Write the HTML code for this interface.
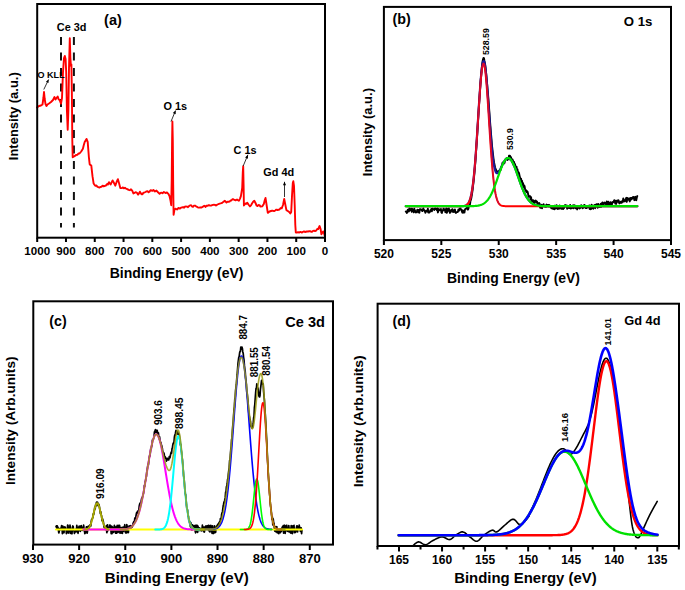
<!DOCTYPE html>
<html><head><meta charset="utf-8"><style>
html,body{margin:0;padding:0;background:#fff;}
svg{display:block;font-family:"Liberation Sans", sans-serif;}
</style></head><body>
<svg width="685" height="590" viewBox="0 0 685 590">

<rect width="685" height="590" fill="#fff"/>
<g>
<path d="M61,37.1 V227.6 M73.9,37.1 V227.6" stroke="#111" stroke-width="2" stroke-dasharray="8 7.5" fill="none"/>
<path d="M37,107.5 L38,106.75 L39,106 L40,105.75 L41,105.5 L42.5,104.5 L43.4,98 L44,92 L44.7,99 L45.5,104 L46.5,106 L47.5,104.5 L49,103.5 L50,102.75 L51,102 L52,101 L53,100 L54.5,97 L55.5,99.5 L56.5,98 L57.7,96.5 L58.7,99.5 L59.6,100 L61,103.6 L62,98 L63,72 L64,58 L64.8,56 L65.6,59 L66.2,72 L66.9,110 L67.7,129.7 L68.4,110 L69,68 L69.8,38.3 L70.4,58 L70.9,66 L71.4,64.4 L71.9,95 L72.3,140 L72.7,157.3 L74,156.5 L75.3,155.6 L76.3,154.88 L77.3,154.8 L78.4,153.52 L79.5,153.5 L81.2,151.5 L82.9,148.8 L83.8,145 L84.7,141.9 L86.5,138.9 L87.7,141.9 L88.9,157.3 L89.7,164.4 L91.3,165.6 L92.5,176.2 L93.6,183.4 L94.5,184.82 L95.4,185.7 L96.45,185.48 L97.5,186.8 L98.55,187.21 L99.6,187.5 L100.55,186.86 L101.5,186.7 L102.6,185.7 L103.7,186.3 L104.85,185.91 L106,185.5 L106.95,184.17 L107.9,184.5 L109,182.2 L110.6,184.5 L111.6,182.33 L112.6,180.4 L114,183 L115.3,185.7 L116.6,182 L117.9,179.2 L119,183 L120.3,188.1 L122,188 L122.95,187.38 L123.9,188.3 L124.95,187.71 L126,188.6 L127.3,189.11 L128.6,189.9 L129.8,190.19 L131,189.3 L132.2,190.67 L133.4,193.4 L135,192.6 L135.95,192.2 L136.9,192.8 L138.1,194.6 L139,193.38 L139.9,191.7 L141.5,194.3 L142.5,194.26 L143.5,192.6 L144.5,192.44 L145.5,192 L146.5,191.41 L147.5,191.2 L148.5,192.26 L149.5,191.6 L150.5,190.23 L151.5,190.5 L152.45,190.9 L153.4,190 L155,191.5 L156.5,190.6 L158,192.3 L159.6,193.8 L161,192.6 L162.5,193.2 L163.9,192 L165.5,193 L167,192.5 L168.3,193.8 L169.5,196 L170.6,201 L171.2,205.2 L171.7,180 L172.1,140 L172.4,121.5 L172.8,140 L173.2,185 L173.6,214.8 L174.4,210 L175.3,208.7 L177,209.5 L178.5,208 L180,208.6 L181,207.67 L182,207.5 L183.05,207.01 L184.1,207.8 L185.05,206.51 L186,206.6 L187,206.56 L188,207.2 L189.5,205.6 L191.1,205.2 L192.05,206.57 L193,206.8 L194,205.63 L195,205.6 L196,206.35 L197,206.8 L198,207.45 L199,207.6 L200.3,207.32 L201.6,207.5 L202.55,206.94 L203.5,206.2 L204.5,205.81 L205.5,207 L206.5,205.61 L207.5,205.8 L208.75,205.12 L210,205.5 L211.05,205.67 L212.1,205.2 L213.05,204.87 L214,204.8 L215,204.87 L216,205.6 L217.5,204.5 L219,203.8 L220.5,203.4 L221.5,203.15 L222.5,202.6 L223.7,201.62 L224.9,200.8 L226.5,202.5 L227.55,201.74 L228.6,201.7 L229.55,201.63 L230.5,200.5 L231.43,200.46 L232.37,199.24 L233.3,199.3 L234.4,199.98 L235.5,200.4 L237,199.5 L237.95,200.2 L238.9,200.8 L240,198.6 L240.9,196.1 L242.2,188 L242.8,172 L243.2,166.3 L243.6,185 L243.9,205.5 L245.5,203.5 L246.4,203.78 L247.3,202.7 L248.8,205 L250,206.4 L251,205.36 L252,203.5 L253.15,201.77 L254.3,200.8 L255.5,203 L256.6,205.5 L257.55,206.11 L258.5,205 L259.5,205.11 L260.5,206.6 L262.2,206.4 L263.8,204 L264.8,200 L265.5,198 L266.3,203 L267.2,209 L267.8,212.9 L269.5,211.5 L271,211 L272,210.75 L273,210.8 L274.1,211.11 L275.2,210.5 L276.35,209.62 L277.5,210 L278.5,209.73 L279.5,209.5 L280.6,208.07 L281.7,208.3 L283,205 L284.2,198.9 L285.2,204 L286.4,210.1 L287.8,211 L289.2,212 L290.3,213.5 L291.2,212 L292,196 L292.8,183 L293.3,181.2 L294,186 L294.7,205 L295.3,225 L295.8,232.5 L296.9,232.65 L298,232.2 L299,232.58 L300,232 L301,232.06 L302,232.54 L303,231.8 L303.98,231.39 L304.95,232 L305.92,231.74 L306.9,231.5 L307.93,231.54 L308.97,231.22 L310,231.2 L311,231.71 L312,231.8 L313,230.9 L314.07,230.75 L315.13,231 L316.2,230.6 L317.2,229.01 L318.2,229 L319.6,226 L320.6,229 L321.4,234.3 L322.3,232.5 L323.3,231.5 L324.2,234 L324.8,236" stroke="#ff0000" stroke-width="1.9" fill="none" stroke-linejoin="round" stroke-linecap="round"/>
<rect x="37.2" y="4" width="287.8" height="233.7" fill="none" stroke="#000" stroke-width="2"/>
<path d="M37.2,237.7 V242 M65.98,237.7 V242 M94.76,237.7 V242 M123.54,237.7 V242 M152.32,237.7 V242 M181.1,237.7 V242 M209.88,237.7 V242 M238.66,237.7 V242 M267.44,237.7 V242 M296.22,237.7 V242 M325,237.7 V242" stroke="#000" stroke-width="2" fill="none"/>
<text x="37.2" y="255" font-size="11.6" font-weight="bold" text-anchor="middle" fill="#000">1000</text>
<text x="65.98" y="255" font-size="11.6" font-weight="bold" text-anchor="middle" fill="#000">900</text>
<text x="94.76" y="255" font-size="11.6" font-weight="bold" text-anchor="middle" fill="#000">800</text>
<text x="123.54" y="255" font-size="11.6" font-weight="bold" text-anchor="middle" fill="#000">700</text>
<text x="152.32" y="255" font-size="11.6" font-weight="bold" text-anchor="middle" fill="#000">600</text>
<text x="181.1" y="255" font-size="11.6" font-weight="bold" text-anchor="middle" fill="#000">500</text>
<text x="209.88" y="255" font-size="11.6" font-weight="bold" text-anchor="middle" fill="#000">400</text>
<text x="238.66" y="255" font-size="11.6" font-weight="bold" text-anchor="middle" fill="#000">300</text>
<text x="267.44" y="255" font-size="11.6" font-weight="bold" text-anchor="middle" fill="#000">200</text>
<text x="296.22" y="255" font-size="11.6" font-weight="bold" text-anchor="middle" fill="#000">100</text>
<text x="325" y="255" font-size="11.6" font-weight="bold" text-anchor="middle" fill="#000">0</text>
<text x="109.7" y="277.6" font-size="14" font-weight="bold" text-anchor="start" fill="#000" textLength="133.8" lengthAdjust="spacingAndGlyphs">Binding Energy (eV)</text>
<text transform="translate(18.1,160.2) rotate(-90)" font-size="13.2" font-weight="bold" text-anchor="start" fill="#000" textLength="88" lengthAdjust="spacingAndGlyphs">Intensity (a.u.)</text>
<text x="104.1" y="24.6" font-size="14.5" font-weight="bold" text-anchor="start" fill="#000">(a)</text>
<text x="56.8" y="30.6" font-size="10.9" font-weight="bold" text-anchor="start" fill="#000">Ce 3d</text>
<text x="37.5" y="78.4" font-size="9.4" font-weight="bold" text-anchor="start" fill="#000" textLength="27.2" lengthAdjust="spacingAndGlyphs">O KLL</text>
<text x="163.5" y="109.6" font-size="10.9" font-weight="bold" text-anchor="start" fill="#000">O 1s</text>
<text x="233.5" y="153.5" font-size="10.9" font-weight="bold" text-anchor="start" fill="#000">C 1s</text>
<text x="263.3" y="175.9" font-size="10.9" font-weight="bold" text-anchor="start" fill="#000">Gd 4d</text>
<path d="M43.8,89.5 L48.6,79.5" stroke="#000" stroke-width="0.8"/>
<path d="M48.6,79.5 L48.51,83.01 L45.92,81.76 Z" fill="#000"/>
<path d="M171,121.5 L175.6,110.5" stroke="#000" stroke-width="0.8"/>
<path d="M175.6,110.5 L175.7,114.34 L172.8,113.12 Z" fill="#000"/>
<path d="M243.2,166 L247.9,154.8" stroke="#000" stroke-width="0.8"/>
<path d="M247.9,154.8 L248,158.64 L245.09,157.42 Z" fill="#000"/>
<path d="M284.5,197 L284.5,181.8" stroke="#000" stroke-width="0.8"/>
<path d="M284.5,181.8 L286.07,185.3 L282.93,185.3 Z" fill="#000"/>
<path d="M405.8,211.63 L406.3,211.38 L406.8,212.97 L407.3,212.18 L407.8,209.71 L408.31,210.17 L408.81,211.48 L409.31,208.5 L409.81,210.52 L410.31,209.17 L410.81,208.94 L411.31,208.67 L411.81,211.93 L412.31,208.99 L412.82,209.54 L413.32,210.2 L413.82,212.41 L414.32,208.77 L414.82,210.47 L415.32,210.93 L415.82,212.46 L416.32,212.17 L416.82,212.37 L417.32,209.68 L417.83,210.31 L418.33,210.05 L418.83,212.47 L419.33,212.81 L419.83,209.09 L420.33,209.21 L420.83,209.47 L421.33,209.47 L421.83,210.63 L422.34,211.11 L422.84,209.61 L423.34,208.42 L423.84,210.33 L424.34,210.1 L424.84,211.01 L425.34,212.78 L425.84,211.58 L426.34,210.77 L426.85,211.24 L427.35,211.51 L427.85,208.65 L428.35,212.54 L428.85,211.99 L429.35,212.42 L429.85,212.07 L430.35,210.2 L430.85,210.24 L431.36,208.88 L431.86,211.32 L432.36,208.69 L432.86,208.71 L433.36,209.36 L433.86,209.15 L434.36,209.96 L434.86,208.64 L435.36,208.4 L435.86,209.1 L436.37,208.87 L436.87,210.07 L437.37,208.52 L437.87,212.42 L438.37,211.22 L438.87,209.08 L439.37,209.56 L439.87,210 L440.37,210.08 L440.88,208.97 L441.38,212.31 L441.88,212.97 L442.38,210.54 L442.88,210.63 L443.38,208.8 L443.88,208.87 L444.38,209.98 L444.88,209.62 L445.39,212.21 L445.89,209.14 L446.39,208.51 L446.89,212.77 L447.39,210.83 L447.89,209.07 L448.39,210.9 L448.89,208.52 L449.39,210.83 L449.9,212.9 L450.4,212.37 L450.9,211.6 L451.4,209.6 L451.9,210.09 L452.4,209.17 L452.9,211.95 L453.4,210.85 L453.9,211.98 L454.4,209.92 L454.91,209.43 L455.41,212.13 L455.91,212.93 L456.41,212.32 L456.91,212.11 L457.41,212.16 L457.91,211.8 L458.41,209.44 L458.91,210.78 L459.42,210.03 L459.92,208.52 L460.42,208.51 L460.92,209.66 L461.42,209.55 L461.92,211.53 L462.42,212.72 L462.92,210.34 L463.42,212.55 L463.93,212.72 L464.43,212.48 L464.93,209.64 L465.43,208.82 L465.93,208.65 L466.43,208.13 L466.93,207.69 L467.43,209.05 L467.93,209.63 L468.44,208.51 L468.94,205.83 L469.44,205.4 L469.94,204.61 L470.44,200.97 L470.94,199.58 L471.44,197.43 L471.94,194.42 L472.44,191.08 L472.95,186.96 L473.45,182.31 L473.95,178.21 L474.45,172.3 L474.95,166.95 L475.45,160.74 L475.95,153.14 L476.45,145.81 L476.95,138.77 L477.45,130.54 L477.96,121.74 L478.46,113.52 L478.96,105.44 L479.46,98.43 L479.96,90.7 L480.46,82.83 L480.96,77.12 L481.46,71.46 L481.96,66.12 L482.47,61.89 L482.97,59.57 L483.47,57.94 L483.97,58.11 L484.47,60.92 L484.97,63.34 L485.47,66.92 L485.97,71.87 L486.47,76.31 L486.98,82.36 L487.48,88.23 L487.98,93.74 L488.48,100.29 L488.98,107.01 L489.48,113.69 L489.98,120.82 L490.48,126.98 L490.98,133.48 L491.49,139.08 L491.99,145.52 L492.49,149.84 L492.99,154.41 L493.49,158.43 L493.99,162.14 L494.49,164.35 L494.99,167.25 L495.49,168.58 L495.99,170.03 L496.5,171.04 L497,171.11 L497.5,171.97 L498,171.72 L498.5,171.32 L499,171.85 L499.5,170.5 L500,170.01 L500.5,170.29 L501.01,168.56 L501.51,166.48 L502.01,166.02 L502.51,162.74 L503.01,162.43 L503.51,164.08 L504.01,162.1 L504.51,163 L505.01,160.73 L505.52,159.54 L506.02,158.65 L506.52,158.29 L507.02,159.01 L507.52,159.95 L508.02,157.87 L508.52,159.21 L509.02,155.67 L509.52,155.58 L510.03,155.85 L510.53,159.78 L511.03,157.11 L511.53,160.21 L512.03,161.98 L512.53,159.41 L513.03,161.14 L513.53,165 L514.03,161.83 L514.53,164.63 L515.04,164.12 L515.54,167.89 L516.04,168.23 L516.54,166.76 L517.04,171.02 L517.54,169.48 L518.04,174.37 L518.54,172.23 L519.04,173.18 L519.55,175.61 L520.05,177.64 L520.55,180.88 L521.05,178.76 L521.55,182.08 L522.05,180.87 L522.55,185.03 L523.05,183.08 L523.55,186.99 L524.06,185.31 L524.56,186.26 L525.06,189.19 L525.56,190.66 L526.06,190.16 L526.56,192.35 L527.06,191.12 L527.56,191.64 L528.06,193.74 L528.57,196.73 L529.07,196.15 L529.57,196.06 L530.07,196.23 L530.57,199.27 L531.07,197.14 L531.57,201.42 L532.07,201.37 L532.57,200.26 L533.07,200.22 L533.58,202.14 L534.08,200.84 L534.58,203.06 L535.08,201.93 L535.58,200.53 L536.08,200.94 L536.58,202.17 L537.08,201.6 L537.58,205.8 L538.09,203.11 L538.59,203.4 L539.09,202.94 L539.59,203.66 L540.09,207.66 L540.59,207.87 L541.09,206.07 L541.59,204.82 L542.09,208.27 L542.6,205.37 L543.1,205.69 L543.6,204.15 L544.1,205.99 L544.6,206.5 L545.1,206.7 L545.6,205.38 L546.1,206.83 L546.6,204.58 L547.11,205.82 L547.61,205.06 L548.11,206.52 L548.61,204.9 L549.11,204.84 L549.61,206.16 L550.11,205.85 L550.61,207.49 L551.11,207.25 L551.61,208.28 L552.12,207.86 L552.62,208.14 L553.12,208.9 L553.62,206.65 L554.12,206.37 L554.62,209.4 L555.12,205.57 L555.62,208.21 L556.12,207.84 L556.63,205.09 L557.13,208.73 L557.63,208.99 L558.13,207.78 L558.63,208.27 L559.13,208.63 L559.63,205.54 L560.13,207.31 L560.63,207.22 L561.14,208.74 L561.64,208.6 L562.14,208.7 L562.64,207.59 L563.14,209.01 L563.64,208.04 L564.14,208.09 L564.64,205.96 L565.14,205.04 L565.65,205.51 L566.15,206.56 L566.65,205.38 L567.15,208.74 L567.65,207.47 L568.15,207.79 L568.65,207.78 L569.15,208.03 L569.65,207.15 L570.15,204.92 L570.66,208.57 L571.16,208.34 L571.66,207.21 L572.16,207.36 L572.66,207.93 L573.16,205.2 L573.66,208.29 L574.16,206.06 L574.66,205.24 L575.17,206.12 L575.67,208.25 L576.17,205.84 L576.67,208.3 L577.17,209.39 L577.67,207.17 L578.17,206.66 L578.67,207.1 L579.17,208.05 L579.68,208.43 L580.18,207.74 L580.68,207.86 L581.18,205.26 L581.68,205.58 L582.18,206.07 L582.68,208.32 L583.18,206.3 L583.68,207.51 L584.19,204.96 L584.69,205.18 L585.19,206.14 L585.69,207.99 L586.19,208.08 L586.69,208.01 L587.19,206.24 L587.69,207.28 L588.19,207.04 L588.7,207.05 L589.2,205.45 L589.7,209.01 L590.2,205.78 L590.7,209.26 L591.2,208.97 L591.7,204.64 L592.2,206.57 L592.7,208.13 L593.2,208.71 L593.71,206.22 L594.21,205.29 L594.71,204.92 L595.21,208.2 L595.71,204.72 L596.21,206.33 L596.71,204.2 L597.21,205.86 L597.71,207.73 L598.22,203.86 L598.72,206.92 L599.22,205.39 L599.72,207.03 L600.22,206.08 L600.72,203.81 L601.22,206.78 L601.72,204.78 L602.22,202.56 L602.73,202.36 L603.23,204.51 L603.73,204.22 L604.23,203.43 L604.73,202.59 L605.23,203.42 L605.73,203.19 L606.23,205.5 L606.73,201.55 L607.24,204.89 L607.74,205.2 L608.24,201.79 L608.74,205.4 L609.24,204.32 L609.74,205.08 L610.24,202.17 L610.74,202.45 L611.24,202.44 L611.74,205.13 L612.25,203.14 L612.75,201.99 L613.25,202.2 L613.75,201.4 L614.25,200.25 L614.75,200.4 L615.25,203.67 L615.75,201.04 L616.25,203.93 L616.76,200.67 L617.26,200.65 L617.76,201.68 L618.26,200.1 L618.76,200.84 L619.26,203.42 L619.76,202.99 L620.26,202.56 L620.76,201.62 L621.27,202.82 L621.77,202.85 L622.27,200.95 L622.77,201.63 L623.27,198.45 L623.77,201.49 L624.27,200.09 L624.77,201.38 L625.27,200.78 L625.78,199.03 L626.28,197.84 L626.78,201.78 L627.28,198 L627.78,199.48 L628.28,198.79 L628.78,198.48 L629.28,200.41 L629.78,201.4 L630.28,198.01 L630.79,199.73 L631.29,197.99 L631.79,199.07 L632.29,198.22 L632.79,197.08 L633.29,196.95 L633.79,197.06 L634.29,200.17 L634.79,198.19 L635.3,196.81 L635.8,199.87 L636.3,200.19 L636.8,197.57 L637.3,196.04" stroke="#000" stroke-width="1.9" fill="none" stroke-linejoin="round" stroke-linecap="round"/>
<path d="M405.8,206.2 L406.3,206.2 L406.8,206.2 L407.3,206.2 L407.8,206.2 L408.31,206.2 L408.81,206.2 L409.31,206.2 L409.81,206.2 L410.31,206.2 L410.81,206.2 L411.31,206.2 L411.81,206.2 L412.31,206.2 L412.82,206.2 L413.32,206.2 L413.82,206.2 L414.32,206.2 L414.82,206.2 L415.32,206.2 L415.82,206.2 L416.32,206.2 L416.82,206.2 L417.32,206.2 L417.83,206.2 L418.33,206.2 L418.83,206.2 L419.33,206.2 L419.83,206.2 L420.33,206.2 L420.83,206.2 L421.33,206.2 L421.83,206.2 L422.34,206.2 L422.84,206.2 L423.34,206.2 L423.84,206.2 L424.34,206.2 L424.84,206.2 L425.34,206.2 L425.84,206.2 L426.34,206.2 L426.85,206.2 L427.35,206.2 L427.85,206.2 L428.35,206.2 L428.85,206.2 L429.35,206.2 L429.85,206.2 L430.35,206.2 L430.85,206.2 L431.36,206.2 L431.86,206.2 L432.36,206.2 L432.86,206.2 L433.36,206.2 L433.86,206.2 L434.36,206.2 L434.86,206.2 L435.36,206.2 L435.86,206.2 L436.37,206.2 L436.87,206.2 L437.37,206.2 L437.87,206.2 L438.37,206.2 L438.87,206.2 L439.37,206.2 L439.87,206.2 L440.37,206.2 L440.88,206.2 L441.38,206.2 L441.88,206.2 L442.38,206.2 L442.88,206.2 L443.38,206.2 L443.88,206.2 L444.38,206.2 L444.88,206.2 L445.39,206.2 L445.89,206.2 L446.39,206.2 L446.89,206.2 L447.39,206.2 L447.89,206.2 L448.39,206.2 L448.89,206.2 L449.39,206.2 L449.9,206.2 L450.4,206.2 L450.9,206.2 L451.4,206.2 L451.9,206.2 L452.4,206.2 L452.9,206.2 L453.4,206.2 L453.9,206.2 L454.4,206.2 L454.91,206.2 L455.41,206.2 L455.91,206.2 L456.41,206.2 L456.91,206.2 L457.41,206.2 L457.91,206.2 L458.41,206.2 L458.91,206.19 L459.42,206.19 L459.92,206.19 L460.42,206.18 L460.92,206.17 L461.42,206.16 L461.92,206.14 L462.42,206.12 L462.92,206.08 L463.42,206.04 L463.93,205.97 L464.43,205.88 L464.93,205.77 L465.43,205.61 L465.93,205.4 L466.43,205.13 L466.93,204.78 L467.43,204.34 L467.93,203.77 L468.44,203.05 L468.94,202.16 L469.44,201.06 L469.94,199.71 L470.44,198.08 L470.94,196.12 L471.44,193.8 L471.94,191.07 L472.44,187.89 L472.95,184.23 L473.45,180.06 L473.95,175.35 L474.45,170.11 L474.95,164.33 L475.45,158.03 L475.95,151.25 L476.45,144.04 L476.95,136.47 L477.45,128.64 L477.96,120.64 L478.46,112.61 L478.96,104.69 L479.46,97.01 L479.96,89.72 L480.46,82.99 L480.96,76.95 L481.46,71.73 L481.96,67.45 L482.47,64.22 L482.97,62.1 L483.47,61.14 L483.97,61.35 L484.47,62.72 L484.97,65.2 L485.47,68.72 L485.97,73.18 L486.47,78.46 L486.98,84.43 L487.48,90.93 L487.98,97.82 L488.48,104.94 L488.98,112.15 L489.48,119.29 L489.98,126.25 L490.48,132.92 L490.98,139.19 L491.49,144.99 L491.99,150.27 L492.49,154.99 L492.99,159.13 L493.49,162.69 L493.99,165.67 L494.49,168.1 L494.99,170 L495.49,171.42 L495.99,172.4 L496.5,172.98 L497,173.22 L497.5,173.15 L498,172.83 L498.5,172.29 L499,171.58 L499.5,170.74 L500,169.79 L500.5,168.78 L501.01,167.72 L501.51,166.64 L502.01,165.57 L502.51,164.52 L503.01,163.51 L503.51,162.56 L504.01,161.67 L504.51,160.86 L505.01,160.14 L505.52,159.51 L506.02,158.99 L506.52,158.57 L507.02,158.26 L507.52,158.07 L508.02,158 L508.52,158.04 L509.02,158.2 L509.52,158.48 L510.03,158.87 L510.53,159.37 L511.03,159.98 L511.53,160.7 L512.03,161.51 L512.53,162.42 L513.03,163.42 L513.53,164.49 L514.03,165.64 L514.53,166.85 L515.04,168.12 L515.54,169.45 L516.04,170.81 L516.54,172.2 L517.04,173.62 L517.54,175.06 L518.04,176.51 L518.54,177.96 L519.04,179.4 L519.55,180.84 L520.05,182.25 L520.55,183.65 L521.05,185.01 L521.55,186.34 L522.05,187.63 L522.55,188.88 L523.05,190.09 L523.55,191.25 L524.06,192.36 L524.56,193.42 L525.06,194.43 L525.56,195.38 L526.06,196.28 L526.56,197.13 L527.06,197.93 L527.56,198.67 L528.06,199.37 L528.57,200.01 L529.07,200.61 L529.57,201.16 L530.07,201.67 L530.57,202.14 L531.07,202.57 L531.57,202.96 L532.07,203.32 L532.57,203.64 L533.07,203.93 L533.58,204.2 L534.08,204.44 L534.58,204.65 L535.08,204.84 L535.58,205.01 L536.08,205.16 L536.58,205.3 L537.08,205.42 L537.58,205.52 L538.09,205.61 L538.59,205.69 L539.09,205.76 L539.59,205.83 L540.09,205.88 L540.59,205.93 L541.09,205.97 L541.59,206 L542.09,206.03 L542.6,206.06 L543.1,206.08 L543.6,206.1 L544.1,206.12 L544.6,206.13 L545.1,206.14 L545.6,206.15 L546.1,206.16 L546.6,206.17 L547.11,206.17 L547.61,206.18 L548.11,206.18 L548.61,206.18 L549.11,206.19 L549.61,206.19 L550.11,206.19 L550.61,206.19 L551.11,206.19 L551.61,206.2 L552.12,206.2 L552.62,206.2 L553.12,206.2 L553.62,206.2 L554.12,206.2 L554.62,206.2 L555.12,206.2 L555.62,206.2 L556.12,206.2 L556.63,206.2 L557.13,206.2 L557.63,206.2 L558.13,206.2 L558.63,206.2 L559.13,206.2 L559.63,206.2 L560.13,206.2 L560.63,206.2 L561.14,206.2 L561.64,206.2 L562.14,206.2 L562.64,206.2 L563.14,206.2 L563.64,206.2 L564.14,206.2 L564.64,206.2 L565.14,206.2 L565.65,206.2 L566.15,206.2 L566.65,206.2 L567.15,206.2 L567.65,206.2 L568.15,206.2 L568.65,206.2 L569.15,206.2 L569.65,206.2 L570.15,206.2 L570.66,206.2 L571.16,206.2 L571.66,206.2 L572.16,206.2 L572.66,206.2 L573.16,206.2 L573.66,206.2 L574.16,206.2 L574.66,206.2 L575.17,206.2 L575.67,206.2 L576.17,206.2 L576.67,206.2 L577.17,206.2 L577.67,206.2 L578.17,206.2 L578.67,206.2 L579.17,206.2 L579.68,206.2 L580.18,206.2 L580.68,206.2 L581.18,206.2 L581.68,206.2 L582.18,206.2 L582.68,206.2 L583.18,206.2 L583.68,206.2 L584.19,206.2 L584.69,206.2 L585.19,206.2 L585.69,206.2 L586.19,206.2 L586.69,206.2 L587.19,206.2 L587.69,206.2 L588.19,206.2 L588.7,206.2 L589.2,206.2 L589.7,206.2 L590.2,206.2 L590.7,206.2 L591.2,206.2 L591.7,206.2 L592.2,206.2 L592.7,206.2 L593.2,206.2 L593.71,206.2 L594.21,206.2 L594.71,206.2 L595.21,206.2 L595.71,206.2 L596.21,206.2 L596.71,206.2 L597.21,206.2 L597.71,206.2 L598.22,206.2 L598.72,206.2 L599.22,206.2 L599.72,206.2 L600.22,206.2 L600.72,206.2 L601.22,206.2 L601.72,206.2 L602.22,206.2 L602.73,206.2 L603.23,206.2 L603.73,206.2 L604.23,206.2 L604.73,206.2 L605.23,206.2 L605.73,206.2 L606.23,206.2 L606.73,206.2 L607.24,206.2 L607.74,206.2 L608.24,206.2 L608.74,206.2 L609.24,206.2 L609.74,206.2 L610.24,206.2 L610.74,206.2 L611.24,206.2 L611.74,206.2 L612.25,206.2 L612.75,206.2 L613.25,206.2 L613.75,206.2 L614.25,206.2 L614.75,206.2 L615.25,206.2 L615.75,206.2 L616.25,206.2 L616.76,206.2 L617.26,206.2 L617.76,206.2 L618.26,206.2 L618.76,206.2 L619.26,206.2 L619.76,206.2 L620.26,206.2 L620.76,206.2 L621.27,206.2 L621.77,206.2 L622.27,206.2 L622.77,206.2 L623.27,206.2 L623.77,206.2 L624.27,206.2 L624.77,206.2 L625.27,206.2 L625.78,206.2 L626.28,206.2 L626.78,206.2 L627.28,206.2 L627.78,206.2 L628.28,206.2 L628.78,206.2 L629.28,206.2 L629.78,206.2 L630.28,206.2 L630.79,206.2 L631.29,206.2 L631.79,206.2 L632.29,206.2 L632.79,206.2 L633.29,206.2 L633.79,206.2 L634.29,206.2 L634.79,206.2 L635.3,206.2 L635.8,206.2 L636.3,206.2 L636.8,206.2 L637.3,206.2" stroke="#1a1aa0" stroke-width="2.2" fill="none" stroke-linejoin="round" stroke-linecap="round"/>
<path d="M405.8,206.2 L406.3,206.2 L406.8,206.2 L407.3,206.2 L407.8,206.2 L408.31,206.2 L408.81,206.2 L409.31,206.2 L409.81,206.2 L410.31,206.2 L410.81,206.2 L411.31,206.2 L411.81,206.2 L412.31,206.2 L412.82,206.2 L413.32,206.2 L413.82,206.2 L414.32,206.2 L414.82,206.2 L415.32,206.2 L415.82,206.2 L416.32,206.2 L416.82,206.2 L417.32,206.2 L417.83,206.2 L418.33,206.2 L418.83,206.2 L419.33,206.2 L419.83,206.2 L420.33,206.2 L420.83,206.2 L421.33,206.2 L421.83,206.2 L422.34,206.2 L422.84,206.2 L423.34,206.2 L423.84,206.2 L424.34,206.2 L424.84,206.2 L425.34,206.2 L425.84,206.2 L426.34,206.2 L426.85,206.2 L427.35,206.2 L427.85,206.2 L428.35,206.2 L428.85,206.2 L429.35,206.2 L429.85,206.2 L430.35,206.2 L430.85,206.2 L431.36,206.2 L431.86,206.2 L432.36,206.2 L432.86,206.2 L433.36,206.2 L433.86,206.2 L434.36,206.2 L434.86,206.2 L435.36,206.2 L435.86,206.2 L436.37,206.2 L436.87,206.2 L437.37,206.2 L437.87,206.2 L438.37,206.2 L438.87,206.2 L439.37,206.2 L439.87,206.2 L440.37,206.2 L440.88,206.2 L441.38,206.2 L441.88,206.2 L442.38,206.2 L442.88,206.2 L443.38,206.2 L443.88,206.2 L444.38,206.2 L444.88,206.2 L445.39,206.2 L445.89,206.2 L446.39,206.2 L446.89,206.2 L447.39,206.2 L447.89,206.2 L448.39,206.2 L448.89,206.2 L449.39,206.2 L449.9,206.2 L450.4,206.2 L450.9,206.2 L451.4,206.2 L451.9,206.2 L452.4,206.2 L452.9,206.2 L453.4,206.2 L453.9,206.2 L454.4,206.2 L454.91,206.2 L455.41,206.2 L455.91,206.2 L456.41,206.2 L456.91,206.2 L457.41,206.2 L457.91,206.2 L458.41,206.2 L458.91,206.19 L459.42,206.19 L459.92,206.19 L460.42,206.18 L460.92,206.17 L461.42,206.16 L461.92,206.14 L462.42,206.12 L462.92,206.09 L463.42,206.04 L463.93,205.97 L464.43,205.89 L464.93,205.77 L465.43,205.62 L465.93,205.41 L466.43,205.14 L466.93,204.8 L467.43,204.35 L467.93,203.79 L468.44,203.07 L468.94,202.19 L469.44,201.09 L469.94,199.75 L470.44,198.13 L470.94,196.18 L471.44,193.87 L471.94,191.15 L472.44,187.98 L472.95,184.34 L473.45,180.19 L473.95,175.51 L474.45,170.3 L474.95,164.55 L475.45,158.29 L475.95,151.55 L476.45,144.39 L476.95,136.89 L477.45,129.12 L477.96,121.2 L478.46,113.26 L478.96,105.44 L479.46,97.87 L479.96,90.72 L480.46,84.13 L480.96,78.25 L481.46,73.22 L481.96,69.15 L482.47,66.15 L482.97,64.28 L483.47,63.6 L483.97,64.13 L484.47,65.84 L484.97,68.7 L485.47,72.64 L485.97,77.55 L486.47,83.33 L486.98,89.84 L487.48,96.92 L487.98,104.45 L488.48,112.25 L488.98,120.18 L489.48,128.11 L489.98,135.9 L490.48,143.45 L490.98,150.65 L491.49,157.45 L491.99,163.77 L492.49,169.59 L492.99,174.87 L493.49,179.62 L493.99,183.83 L494.49,187.54 L494.99,190.76 L495.49,193.54 L495.99,195.9 L496.5,197.89 L497,199.56 L497.5,200.93 L498,202.06 L498.5,202.97 L499,203.7 L499.5,204.29 L500,204.74 L500.5,205.1 L501.01,205.38 L501.51,205.59 L502.01,205.75 L502.51,205.87 L503.01,205.96 L503.51,206.03 L504.01,206.08 L504.51,206.12 L505.01,206.14 L505.52,206.16 L506.02,206.17 L506.52,206.18 L507.02,206.19 L507.52,206.19 L508.02,206.19 L508.52,206.2 L509.02,206.2 L509.52,206.2 L510.03,206.2 L510.53,206.2 L511.03,206.2 L511.53,206.2 L512.03,206.2 L512.53,206.2 L513.03,206.2 L513.53,206.2 L514.03,206.2 L514.53,206.2 L515.04,206.2 L515.54,206.2 L516.04,206.2 L516.54,206.2 L517.04,206.2 L517.54,206.2 L518.04,206.2 L518.54,206.2 L519.04,206.2 L519.55,206.2 L520.05,206.2 L520.55,206.2 L521.05,206.2 L521.55,206.2 L522.05,206.2 L522.55,206.2 L523.05,206.2 L523.55,206.2 L524.06,206.2 L524.56,206.2 L525.06,206.2 L525.56,206.2 L526.06,206.2 L526.56,206.2 L527.06,206.2 L527.56,206.2 L528.06,206.2 L528.57,206.2 L529.07,206.2 L529.57,206.2 L530.07,206.2 L530.57,206.2 L531.07,206.2 L531.57,206.2 L532.07,206.2 L532.57,206.2 L533.07,206.2 L533.58,206.2 L534.08,206.2 L534.58,206.2 L535.08,206.2 L535.58,206.2 L536.08,206.2 L536.58,206.2 L537.08,206.2 L537.58,206.2 L538.09,206.2 L538.59,206.2 L539.09,206.2 L539.59,206.2 L540.09,206.2 L540.59,206.2 L541.09,206.2 L541.59,206.2 L542.09,206.2 L542.6,206.2 L543.1,206.2 L543.6,206.2 L544.1,206.2 L544.6,206.2 L545.1,206.2 L545.6,206.2 L546.1,206.2 L546.6,206.2 L547.11,206.2 L547.61,206.2 L548.11,206.2 L548.61,206.2 L549.11,206.2 L549.61,206.2 L550.11,206.2 L550.61,206.2 L551.11,206.2 L551.61,206.2 L552.12,206.2 L552.62,206.2 L553.12,206.2 L553.62,206.2 L554.12,206.2 L554.62,206.2 L555.12,206.2 L555.62,206.2 L556.12,206.2 L556.63,206.2 L557.13,206.2 L557.63,206.2 L558.13,206.2 L558.63,206.2 L559.13,206.2 L559.63,206.2 L560.13,206.2 L560.63,206.2 L561.14,206.2 L561.64,206.2 L562.14,206.2 L562.64,206.2 L563.14,206.2 L563.64,206.2 L564.14,206.2 L564.64,206.2 L565.14,206.2 L565.65,206.2 L566.15,206.2 L566.65,206.2 L567.15,206.2 L567.65,206.2 L568.15,206.2 L568.65,206.2 L569.15,206.2 L569.65,206.2 L570.15,206.2 L570.66,206.2 L571.16,206.2 L571.66,206.2 L572.16,206.2 L572.66,206.2 L573.16,206.2 L573.66,206.2 L574.16,206.2 L574.66,206.2 L575.17,206.2 L575.67,206.2 L576.17,206.2 L576.67,206.2 L577.17,206.2 L577.67,206.2 L578.17,206.2 L578.67,206.2 L579.17,206.2 L579.68,206.2 L580.18,206.2 L580.68,206.2 L581.18,206.2 L581.68,206.2 L582.18,206.2 L582.68,206.2 L583.18,206.2 L583.68,206.2 L584.19,206.2 L584.69,206.2 L585.19,206.2 L585.69,206.2 L586.19,206.2 L586.69,206.2 L587.19,206.2 L587.69,206.2 L588.19,206.2 L588.7,206.2 L589.2,206.2 L589.7,206.2 L590.2,206.2 L590.7,206.2 L591.2,206.2 L591.7,206.2 L592.2,206.2 L592.7,206.2 L593.2,206.2 L593.71,206.2 L594.21,206.2 L594.71,206.2 L595.21,206.2 L595.71,206.2 L596.21,206.2 L596.71,206.2 L597.21,206.2 L597.71,206.2 L598.22,206.2 L598.72,206.2 L599.22,206.2 L599.72,206.2 L600.22,206.2 L600.72,206.2 L601.22,206.2 L601.72,206.2 L602.22,206.2 L602.73,206.2 L603.23,206.2 L603.73,206.2 L604.23,206.2 L604.73,206.2 L605.23,206.2 L605.73,206.2 L606.23,206.2 L606.73,206.2 L607.24,206.2 L607.74,206.2 L608.24,206.2 L608.74,206.2 L609.24,206.2 L609.74,206.2 L610.24,206.2 L610.74,206.2 L611.24,206.2 L611.74,206.2 L612.25,206.2 L612.75,206.2 L613.25,206.2 L613.75,206.2 L614.25,206.2 L614.75,206.2 L615.25,206.2 L615.75,206.2 L616.25,206.2 L616.76,206.2 L617.26,206.2 L617.76,206.2 L618.26,206.2 L618.76,206.2 L619.26,206.2 L619.76,206.2 L620.26,206.2 L620.76,206.2 L621.27,206.2 L621.77,206.2 L622.27,206.2 L622.77,206.2 L623.27,206.2 L623.77,206.2 L624.27,206.2 L624.77,206.2 L625.27,206.2 L625.78,206.2 L626.28,206.2 L626.78,206.2 L627.28,206.2 L627.78,206.2 L628.28,206.2 L628.78,206.2 L629.28,206.2 L629.78,206.2 L630.28,206.2 L630.79,206.2 L631.29,206.2 L631.79,206.2 L632.29,206.2 L632.79,206.2 L633.29,206.2 L633.79,206.2 L634.29,206.2 L634.79,206.2 L635.3,206.2 L635.8,206.2 L636.3,206.2 L636.8,206.2 L637.3,206.2" stroke="#ff0000" stroke-width="2.0" fill="none" stroke-linejoin="round" stroke-linecap="round"/>
<path d="M470.44,198.13 L470.94,196.18 L471.44,193.87 L471.94,191.15 L472.44,187.98 L472.95,184.34 L473.45,180.19 L473.95,175.51 L474.45,170.3 L474.95,164.55 L475.45,158.29 L475.95,151.55 L476.45,144.39 L476.95,136.89 L477.45,129.12 L477.96,121.2 L478.46,113.26 L478.96,105.44 L479.46,97.87 L479.96,90.72 L480.46,84.13 L480.96,78.25 L481.46,73.22 L481.96,69.15 L482.47,66.15 L482.97,64.28 L483.47,63.6 L483.97,64.13 L484.47,65.84 L484.97,68.7 L485.47,72.64 L485.97,77.55 L486.47,83.33 L486.98,89.84 L487.48,96.92 L487.98,104.45 L488.48,112.25 L488.98,120.18 L489.48,128.11 L489.98,135.9 L490.48,143.45 L490.98,150.65 L491.49,157.45 L491.99,163.77 L492.49,169.59 L492.99,174.87 L493.49,179.62 L493.99,183.83 L494.49,187.54 L494.99,190.76 L495.49,193.54 L495.99,195.9 L496.5,197.89 L497,199.56 L497.5,200.93 L498,202.06 L498.5,202.97 L499,203.7 L499.5,204.29" stroke="#c0104a" stroke-width="1.2" fill="none" stroke-linejoin="round" stroke-linecap="round" opacity="0.8"/>
<path d="M405.8,206.2 L406.3,206.2 L406.8,206.2 L407.3,206.2 L407.8,206.2 L408.31,206.2 L408.81,206.2 L409.31,206.2 L409.81,206.2 L410.31,206.2 L410.81,206.2 L411.31,206.2 L411.81,206.2 L412.31,206.2 L412.82,206.2 L413.32,206.2 L413.82,206.2 L414.32,206.2 L414.82,206.2 L415.32,206.2 L415.82,206.2 L416.32,206.2 L416.82,206.2 L417.32,206.2 L417.83,206.2 L418.33,206.2 L418.83,206.2 L419.33,206.2 L419.83,206.2 L420.33,206.2 L420.83,206.2 L421.33,206.2 L421.83,206.2 L422.34,206.2 L422.84,206.2 L423.34,206.2 L423.84,206.2 L424.34,206.2 L424.84,206.2 L425.34,206.2 L425.84,206.2 L426.34,206.2 L426.85,206.2 L427.35,206.2 L427.85,206.2 L428.35,206.2 L428.85,206.2 L429.35,206.2 L429.85,206.2 L430.35,206.2 L430.85,206.2 L431.36,206.2 L431.86,206.2 L432.36,206.2 L432.86,206.2 L433.36,206.2 L433.86,206.2 L434.36,206.2 L434.86,206.2 L435.36,206.2 L435.86,206.2 L436.37,206.2 L436.87,206.2 L437.37,206.2 L437.87,206.2 L438.37,206.2 L438.87,206.2 L439.37,206.2 L439.87,206.2 L440.37,206.2 L440.88,206.2 L441.38,206.2 L441.88,206.2 L442.38,206.2 L442.88,206.2 L443.38,206.2 L443.88,206.2 L444.38,206.2 L444.88,206.2 L445.39,206.2 L445.89,206.2 L446.39,206.2 L446.89,206.2 L447.39,206.2 L447.89,206.2 L448.39,206.2 L448.89,206.2 L449.39,206.2 L449.9,206.2 L450.4,206.2 L450.9,206.2 L451.4,206.2 L451.9,206.2 L452.4,206.2 L452.9,206.2 L453.4,206.2 L453.9,206.2 L454.4,206.2 L454.91,206.2 L455.41,206.2 L455.91,206.2 L456.41,206.2 L456.91,206.2 L457.41,206.2 L457.91,206.2 L458.41,206.2 L458.91,206.2 L459.42,206.2 L459.92,206.2 L460.42,206.2 L460.92,206.2 L461.42,206.2 L461.92,206.2 L462.42,206.2 L462.92,206.2 L463.42,206.2 L463.93,206.2 L464.43,206.2 L464.93,206.19 L465.43,206.19 L465.93,206.19 L466.43,206.19 L466.93,206.19 L467.43,206.19 L467.93,206.18 L468.44,206.18 L468.94,206.17 L469.44,206.17 L469.94,206.16 L470.44,206.15 L470.94,206.14 L471.44,206.13 L471.94,206.12 L472.44,206.11 L472.95,206.09 L473.45,206.07 L473.95,206.04 L474.45,206.01 L474.95,205.98 L475.45,205.94 L475.95,205.9 L476.45,205.84 L476.95,205.79 L477.45,205.72 L477.96,205.64 L478.46,205.55 L478.96,205.45 L479.46,205.34 L479.96,205.21 L480.46,205.06 L480.96,204.9 L481.46,204.71 L481.96,204.51 L482.47,204.28 L482.97,204.02 L483.47,203.74 L483.97,203.42 L484.47,203.08 L484.97,202.7 L485.47,202.28 L485.97,201.83 L486.47,201.33 L486.98,200.79 L487.48,200.21 L487.98,199.58 L488.48,198.9 L488.98,198.17 L489.48,197.39 L489.98,196.56 L490.48,195.67 L490.98,194.73 L491.49,193.74 L491.99,192.7 L492.49,191.61 L492.99,190.46 L493.49,189.27 L493.99,188.03 L494.49,186.75 L494.99,185.43 L495.49,184.08 L495.99,182.7 L496.5,181.29 L497,179.86 L497.5,178.42 L498,176.97 L498.5,175.52 L499,174.08 L499.5,172.65 L500,171.25 L500.5,169.87 L501.01,168.54 L501.51,167.25 L502.01,166.02 L502.51,164.85 L503.01,163.75 L503.51,162.73 L504.01,161.79 L504.51,160.95 L505.01,160.2 L505.52,159.55 L506.02,159.01 L506.52,158.59 L507.02,158.28 L507.52,158.08 L508.02,158 L508.52,158.04 L509.02,158.2 L509.52,158.48 L510.03,158.87 L510.53,159.37 L511.03,159.98 L511.53,160.7 L512.03,161.51 L512.53,162.42 L513.03,163.42 L513.53,164.49 L514.03,165.64 L514.53,166.85 L515.04,168.12 L515.54,169.45 L516.04,170.81 L516.54,172.2 L517.04,173.62 L517.54,175.06 L518.04,176.51 L518.54,177.96 L519.04,179.4 L519.55,180.84 L520.05,182.25 L520.55,183.65 L521.05,185.01 L521.55,186.34 L522.05,187.63 L522.55,188.88 L523.05,190.09 L523.55,191.25 L524.06,192.36 L524.56,193.42 L525.06,194.43 L525.56,195.38 L526.06,196.28 L526.56,197.13 L527.06,197.93 L527.56,198.67 L528.06,199.37 L528.57,200.01 L529.07,200.61 L529.57,201.16 L530.07,201.67 L530.57,202.14 L531.07,202.57 L531.57,202.96 L532.07,203.32 L532.57,203.64 L533.07,203.93 L533.58,204.2 L534.08,204.44 L534.58,204.65 L535.08,204.84 L535.58,205.01 L536.08,205.16 L536.58,205.3 L537.08,205.42 L537.58,205.52 L538.09,205.61 L538.59,205.69 L539.09,205.76 L539.59,205.83 L540.09,205.88 L540.59,205.93 L541.09,205.97 L541.59,206 L542.09,206.03 L542.6,206.06 L543.1,206.08 L543.6,206.1 L544.1,206.12 L544.6,206.13 L545.1,206.14 L545.6,206.15 L546.1,206.16 L546.6,206.17 L547.11,206.17 L547.61,206.18 L548.11,206.18 L548.61,206.18 L549.11,206.19 L549.61,206.19 L550.11,206.19 L550.61,206.19 L551.11,206.19 L551.61,206.2 L552.12,206.2 L552.62,206.2 L553.12,206.2 L553.62,206.2 L554.12,206.2 L554.62,206.2 L555.12,206.2 L555.62,206.2 L556.12,206.2 L556.63,206.2 L557.13,206.2 L557.63,206.2 L558.13,206.2 L558.63,206.2 L559.13,206.2 L559.63,206.2 L560.13,206.2 L560.63,206.2 L561.14,206.2 L561.64,206.2 L562.14,206.2 L562.64,206.2 L563.14,206.2 L563.64,206.2 L564.14,206.2 L564.64,206.2 L565.14,206.2 L565.65,206.2 L566.15,206.2 L566.65,206.2 L567.15,206.2 L567.65,206.2 L568.15,206.2 L568.65,206.2 L569.15,206.2 L569.65,206.2 L570.15,206.2 L570.66,206.2 L571.16,206.2 L571.66,206.2 L572.16,206.2 L572.66,206.2 L573.16,206.2 L573.66,206.2 L574.16,206.2 L574.66,206.2 L575.17,206.2 L575.67,206.2 L576.17,206.2 L576.67,206.2 L577.17,206.2 L577.67,206.2 L578.17,206.2 L578.67,206.2 L579.17,206.2 L579.68,206.2 L580.18,206.2 L580.68,206.2 L581.18,206.2 L581.68,206.2 L582.18,206.2 L582.68,206.2 L583.18,206.2 L583.68,206.2 L584.19,206.2 L584.69,206.2 L585.19,206.2 L585.69,206.2 L586.19,206.2 L586.69,206.2 L587.19,206.2 L587.69,206.2 L588.19,206.2 L588.7,206.2 L589.2,206.2 L589.7,206.2 L590.2,206.2 L590.7,206.2 L591.2,206.2 L591.7,206.2 L592.2,206.2 L592.7,206.2 L593.2,206.2 L593.71,206.2 L594.21,206.2 L594.71,206.2 L595.21,206.2 L595.71,206.2 L596.21,206.2 L596.71,206.2 L597.21,206.2 L597.71,206.2 L598.22,206.2 L598.72,206.2 L599.22,206.2 L599.72,206.2 L600.22,206.2 L600.72,206.2 L601.22,206.2 L601.72,206.2 L602.22,206.2 L602.73,206.2 L603.23,206.2 L603.73,206.2 L604.23,206.2 L604.73,206.2 L605.23,206.2 L605.73,206.2 L606.23,206.2 L606.73,206.2 L607.24,206.2 L607.74,206.2 L608.24,206.2 L608.74,206.2 L609.24,206.2 L609.74,206.2 L610.24,206.2 L610.74,206.2 L611.24,206.2 L611.74,206.2 L612.25,206.2 L612.75,206.2 L613.25,206.2 L613.75,206.2 L614.25,206.2 L614.75,206.2 L615.25,206.2 L615.75,206.2 L616.25,206.2 L616.76,206.2 L617.26,206.2 L617.76,206.2 L618.26,206.2 L618.76,206.2 L619.26,206.2 L619.76,206.2 L620.26,206.2 L620.76,206.2 L621.27,206.2 L621.77,206.2 L622.27,206.2 L622.77,206.2 L623.27,206.2 L623.77,206.2 L624.27,206.2 L624.77,206.2 L625.27,206.2 L625.78,206.2 L626.28,206.2 L626.78,206.2 L627.28,206.2 L627.78,206.2 L628.28,206.2 L628.78,206.2 L629.28,206.2 L629.78,206.2 L630.28,206.2 L630.79,206.2 L631.29,206.2 L631.79,206.2 L632.29,206.2 L632.79,206.2 L633.29,206.2 L633.79,206.2 L634.29,206.2 L634.79,206.2 L635.3,206.2 L635.8,206.2 L636.3,206.2 L636.8,206.2 L637.3,206.2" stroke="#00e000" stroke-width="2.2" fill="none" stroke-linejoin="round" stroke-linecap="round"/>
<rect x="383.9" y="6.9" width="287.1" height="233.2" fill="none" stroke="#000" stroke-width="2"/>
<path d="M383.9,240.1 V244.9 M441.32,240.1 V244.9 M498.74,240.1 V244.9 M556.16,240.1 V244.9 M613.58,240.1 V244.9 M671,240.1 V244.9" stroke="#000" stroke-width="2" fill="none"/>
<text x="383.9" y="257.8" font-size="12" font-weight="bold" text-anchor="middle" fill="#000">520</text>
<text x="441.32" y="257.8" font-size="12" font-weight="bold" text-anchor="middle" fill="#000">525</text>
<text x="498.74" y="257.8" font-size="12" font-weight="bold" text-anchor="middle" fill="#000">530</text>
<text x="556.16" y="257.8" font-size="12" font-weight="bold" text-anchor="middle" fill="#000">535</text>
<text x="613.58" y="257.8" font-size="12" font-weight="bold" text-anchor="middle" fill="#000">540</text>
<text x="671" y="257.8" font-size="12" font-weight="bold" text-anchor="middle" fill="#000">545</text>
<text x="447" y="282.7" font-size="14" font-weight="bold" text-anchor="start" fill="#000" textLength="133" lengthAdjust="spacingAndGlyphs">Binding Energy (eV)</text>
<text transform="translate(371.6,176.2) rotate(-90)" font-size="12.8" font-weight="bold" text-anchor="start" fill="#000" textLength="88.2" lengthAdjust="spacingAndGlyphs">Intensity (a.u.)</text>
<text x="392.4" y="24.4" font-size="14.3" font-weight="bold" text-anchor="start" fill="#000">(b)</text>
<text x="623.8" y="25.6" font-size="13.2" font-weight="bold" text-anchor="start" fill="#000">O 1s</text>
<text transform="translate(489.1,55) rotate(-90)" font-size="9.3" font-weight="bold" text-anchor="start" fill="#000" textLength="26.8" lengthAdjust="spacingAndGlyphs">528.59</text>
<text transform="translate(513.2,150) rotate(-90)" font-size="9.3" font-weight="bold" text-anchor="start" fill="#000" textLength="21.8" lengthAdjust="spacingAndGlyphs">530.9</text>
<path d="M56,526.73 L56.4,525.82 L56.8,528.08 L57.2,525.82 L57.6,527.15 L58,527.33 L58.4,530.13 L58.8,532.99 L59.2,531.75 L59.6,528.72 L60,528.72 L60.4,529.72 L60.8,528.39 L61.2,528.04 L61.6,525.56 L62,527.5 L62.4,533.71 L62.8,526.13 L63.2,529.53 L63.6,530.67 L64,532.77 L64.4,526.94 L64.8,527.44 L65.2,527.24 L65.6,528.6 L66,529.01 L66.4,533.59 L66.8,532.64 L67.2,532.86 L67.6,525.2 L68,525.29 L68.4,531.39 L68.8,533.06 L69.2,529.26 L69.6,530.28 L70,525 L70.4,528.52 L70.8,533.34 L71.2,532.43 L71.6,532.7 L72,533.75 L72.4,527.24 L72.8,525.98 L73.2,526.39 L73.6,529.7 L74,531.14 L74.4,533.47 L74.8,531.5 L75.2,530.83 L75.6,531.88 L76,529.12 L76.4,529.96 L76.8,525.36 L77.2,532.04 L77.6,527.09 L78,533.28 L78.4,530.81 L78.8,527.73 L79.2,526.15 L79.6,527.27 L80,530.73 L80.4,531.29 L80.8,526.01 L81.2,525.63 L81.6,529.72 L82,530.24 L82.4,528.49 L82.8,527 L83.2,530.4 L83.6,525.07 L84,527.68 L84.4,529.1 L84.8,533.56 L85.2,530.7 L85.6,532.81 L86,529.07 L86.4,526.82 L86.8,526.82 L87.2,533.09 L87.6,530.59 L88,527.64 L88.4,526.07 L88.8,527.76 L89.2,528.03 L89.6,526.3 L90,524.86 L90.4,525.8 L90.8,525.93 L91.2,521.71 L91.6,519.58 L92,519.49 L92.4,518.3 L92.8,517.79 L93.2,513.93 L93.6,514.79 L94,512.77 L94.4,510.01 L94.8,507.06 L95.2,508.94 L95.6,504.75 L96,505.93 L96.4,502.56 L96.8,502.04 L97.2,504.25 L97.6,502.36 L98,505.73 L98.4,504.51 L98.8,504.21 L99.2,505.66 L99.6,508 L100,510.72 L100.4,513.69 L100.8,511.93 L101.2,514.79 L101.6,515.73 L102,520.73 L102.4,518.62 L102.8,519.65 L103.2,520.98 L103.6,523.59 L104,526.82 L104.4,527.61 L104.8,527.68 L105.2,529.45 L105.6,529.66 L106,527.42 L106.4,525.66 L106.8,532.67 L107.2,531.16 L107.6,524.88 L108,530.69 L108.4,528.2 L108.8,528.22 L109.2,527.88 L109.6,526.45 L110,524.98 L110.4,527.49 L110.8,528.14 L111.2,533.59 L111.6,526.1 L112,533.67 L112.4,526.86 L112.8,528.21 L113.2,532.39 L113.6,532.39 L114,528.89 L114.4,525.44 L114.8,529.26 L115.2,528.35 L115.6,533.27 L116,526.73 L116.4,528.27 L116.8,533.06 L117.2,525.26 L117.6,528.68 L118,532.29 L118.4,531.88 L118.8,525.34 L119.2,525.28 L119.6,525.52 L120,533.23 L120.4,527.26 L120.8,531.66 L121.2,533.01 L121.6,527.96 L122,527.34 L122.4,533.5 L122.8,530.41 L123.2,527.19 L123.6,531.25 L124,527.62 L124.4,527.22 L124.8,524.73 L125.2,531.45 L125.6,532.84 L126,530.23 L126.4,532.94 L126.8,524.59 L127.2,526.38 L127.6,528.45 L128,532.66 L128.4,532.5 L128.8,527.23 L129.2,525.83 L129.6,527.23 L130,527.58 L130.4,529.21 L130.8,525.61 L131.2,527.95 L131.6,527.24 L132,527.11 L132.4,526.32 L132.8,524.95 L133.2,523 L133.6,522.16 L134,521.46 L134.4,522.36 L134.8,518.24 L135.2,517.67 L135.6,518.99 L136,515.59 L136.4,513.6 L136.8,512.27 L137.2,513.35 L137.6,511.17 L138,512.88 L138.4,511.3 L138.8,510.61 L139.2,506.29 L139.6,504.35 L140,503.23 L140.4,503.79 L140.8,503.45 L141.2,500.96 L141.6,498.6 L142,497.89 L142.4,497.17 L142.8,495.68 L143.2,494.18 L143.6,492.68 L144,489.85 L144.4,485.33 L144.8,486.3 L145.2,481.61 L145.6,480.48 L146,477.24 L146.4,476.43 L146.8,471.61 L147.2,469.36 L147.6,466.89 L148,464.03 L148.4,464.81 L148.8,461.06 L149.2,457.59 L149.6,455.59 L150,455.96 L150.4,451.65 L150.8,448.32 L151.2,448.83 L151.6,446.19 L152,445.79 L152.4,440.07 L152.8,439.97 L153.2,439.82 L153.6,438.33 L154,437.16 L154.4,431.94 L154.8,431.83 L155.2,430.04 L155.6,429.58 L156,432.54 L156.4,430.66 L156.8,432.34 L157.2,430.37 L157.6,433.33 L158,432.54 L158.4,432.95 L158.8,436.64 L159.2,438.89 L159.6,436.78 L160,440.57 L160.4,442.32 L160.8,442.2 L161.2,444.51 L161.6,445.14 L162,447.02 L162.4,448.8 L162.8,451.81 L163.2,453.46 L163.6,452.82 L164,453.19 L164.4,455.68 L164.8,458.19 L165.2,456.85 L165.6,458.1 L166,458.17 L166.4,461.17 L166.8,460.35 L167.2,458.33 L167.6,458.48 L168,459.61 L168.4,459.98 L168.8,459.91 L169.2,456.88 L169.6,456.41 L170,457.78 L170.4,455.38 L170.8,453.5 L171.2,452.11 L171.6,453.29 L172,448.67 L172.4,447.87 L172.8,444.96 L173.2,443.19 L173.6,443.16 L174,441.8 L174.4,437.19 L174.8,434.8 L175.2,435.7 L175.6,432.2 L176,430.42 L176.4,433.76 L176.8,431.36 L177.2,433.12 L177.6,431.64 L178,434.39 L178.4,433.5 L178.8,433.48 L179.2,434.44 L179.6,438.74 L180,441.41 L180.4,445.22 L180.8,444.56 L181.2,450.2 L181.6,452.68 L182,457.14 L182.4,459.66 L182.8,464.54 L183.2,470 L183.6,476.25 L184,477.14 L184.4,483.24 L184.8,488.95 L185.2,493.83 L185.6,494.42 L186,497.87 L186.4,504.97 L186.8,508.37 L187.2,509.18 L187.6,510 L188,516.29 L188.4,516.11 L188.8,520.32 L189.2,520.78 L189.6,523.16 L190,521.53 L190.4,526.71 L190.8,522.58 L191.2,525.03 L191.6,529.68 L192,530.09 L192.4,524.74 L192.8,525.44 L193.2,527.39 L193.6,528.71 L194,527.71 L194.4,525.53 L194.8,526.77 L195.2,531.18 L195.6,532.81 L196,525.17 L196.4,529.91 L196.8,531.7 L197.2,525.26 L197.6,532.48 L198,526.01 L198.4,530.36 L198.8,529.92 L199.2,530.62 L199.6,527.74 L200,528.77 L200.4,530.24 L200.8,528.83 L201.2,530.93 L201.6,529.02 L202,528.94 L202.4,525.21 L202.8,530.57 L203.2,529.4 L203.6,527.11 L204,531.87 L204.4,532.02 L204.8,529.12 L205.2,526.61 L205.6,529.25 L206,525.95 L206.4,526.14 L206.8,528.86 L207.2,525.81 L207.6,528.95 L208,529.56 L208.4,525.33 L208.8,530.68 L209.2,525.68 L209.6,531.53 L210,531.91 L210.4,529.49 L210.8,525.35 L211.2,529.36 L211.6,528.19 L212,533.3 L212.4,525.92 L212.8,532.34 L213.2,533.51 L213.6,531.04 L214,531.68 L214.4,525.96 L214.8,532.9 L215.2,528.31 L215.6,532.27 L216,529.74 L216.4,526.14 L216.8,528.54 L217.2,528.75 L217.6,524.47 L218,525.17 L218.4,526.31 L218.8,522.93 L219.2,525.32 L219.6,521.6 L220,522.87 L220.4,518.67 L220.8,518.87 L221.2,519.18 L221.6,514.39 L222,512.84 L222.4,511.99 L222.8,509.15 L223.2,505.79 L223.6,504.22 L224,501.86 L224.4,502.93 L224.8,499.41 L225.2,497.92 L225.6,492.22 L226,492.36 L226.4,486.77 L226.8,485.85 L227.2,483.46 L227.6,479.26 L228,478.38 L228.4,473.67 L228.8,470.3 L229.2,467.96 L229.6,460.68 L230,460.55 L230.4,454.72 L230.8,449.29 L231.2,446.52 L231.6,439.49 L232,437.89 L232.4,431.18 L232.8,425.26 L233.2,422.04 L233.6,415.59 L234,409.41 L234.4,406.92 L234.8,398.92 L235.2,397.46 L235.6,390.19 L236,387.23 L236.4,384.22 L236.8,378.08 L237.2,374.2 L237.6,368.62 L238,363.43 L238.4,360 L238.8,357.24 L239.2,356.37 L239.6,353.03 L240,351.32 L240.4,351.45 L240.8,347.09 L241.2,347.09 L241.6,349.16 L242,347.18 L242.4,348.48 L242.8,351.96 L243.2,353.31 L243.6,357.3 L244,359.98 L244.4,365.16 L244.8,369.04 L245.2,371.42 L245.6,377.5 L246,381.19 L246.4,384.11 L246.8,392.08 L247.2,393.44 L247.6,397.36 L248,401.34 L248.4,407.77 L248.8,412.62 L249.2,415.77 L249.6,417.33 L250,419.59 L250.4,420.92 L250.8,425.7 L251.2,426.79 L251.6,426.7 L252,428.14 L252.4,426.58 L252.8,427.17 L253.2,423.72 L253.6,418.06 L254,416.54 L254.4,407.72 L254.8,404.52 L255.2,398.71 L255.6,393.19 L256,388.46 L256.4,388.79 L256.8,383.9 L257.2,386.17 L257.6,389.19 L258,388.12 L258.4,391.35 L258.8,395.79 L259.2,396.76 L259.6,396.98 L260,395.62 L260.4,389.53 L260.8,386.56 L261.2,383.44 L261.6,380.24 L262,383.06 L262.4,382.97 L262.8,384.27 L263.2,383.91 L263.6,391.41 L264,395.75 L264.4,400.12 L264.8,407.64 L265.2,413.24 L265.6,419.58 L266,426.71 L266.4,435.13 L266.8,442.23 L267.2,451.45 L267.6,461.04 L268,468.32 L268.4,476.15 L268.8,482.33 L269.2,486.66 L269.6,493.72 L270,498.46 L270.4,504.73 L270.8,507.76 L271.2,510.3 L271.6,515.15 L272,519.32 L272.4,517.05 L272.8,524.98 L273.2,518.82 L273.6,522.36 L274,523.24 L274.4,528.68 L274.8,531.19 L275.2,529.96 L275.6,526.62 L276,531.93 L276.4,527.23 L276.8,526.62 L277.2,532.78 L277.6,530.4 L278,531.03 L278.4,530.85 L278.8,533.71 L279.2,529.16 L279.6,532.51 L280,531.25 L280.4,532.7 L280.8,528.92 L281.2,531.51 L281.6,530.13 L282,527.77 L282.4,526.9 L282.8,530.6 L283.2,525.7 L283.6,533.2 L284,526.3 L284.4,525.24 L284.8,525.96 L285.2,533.36 L285.6,528.1 L286,526.28 L286.4,525.26 L286.8,525.37 L287.2,531.23 L287.6,530.7 L288,531.27 L288.4,531.63 L288.8,525.59 L289.2,530.31 L289.6,528.27 L290,532.36 L290.4,532.38 L290.8,533.02 L291.2,525.59 L291.6,532.81 L292,533.23 L292.4,533.5 L292.8,525.96 L293.2,526.85 L293.6,526.01 L294,525.31 L294.4,532.63 L294.8,532.31 L295.2,530.71 L295.6,532.43 L296,530.68 L296.4,527.59 L296.8,525.9 L297.2,525.88 L297.6,531.82 L298,526.84 L298.4,527.87 L298.8,528.81 L299.2,525.19 L299.6,527.31 L300,527.54 L300.4,531.44 L300.8,528.31 L301.2,527.89 L301.6,533.68 L302,529.53" stroke="#000" stroke-width="1.7" fill="none" stroke-linejoin="round" stroke-linecap="round"/>
<path d="M56,529.5 L302,529.5" stroke="#ffff00" stroke-width="2.2" fill="none" stroke-linejoin="round" stroke-linecap="round"/>
<path d="M83.6,529.5 L84,529.5 L84.4,529.5 L84.8,529.5 L85.2,529.5 L85.6,529.5 L86,529.5 L86.4,529.5 L86.8,529.5 L87.2,529.5 L87.6,529.5 L88,529.5 L88.4,529.5 L88.8,529.5 L89.2,529.5 L89.6,529.5 L90,529.5 L90.4,529.5 L90.8,529.5 L91.2,529.5 L91.6,529.5 L92,529.5 L92.4,529.5 L92.8,529.5 L93.2,529.5 L93.6,529.5 L94,529.5 L94.4,529.5 L94.8,529.5 L95.2,529.5 L95.6,529.5 L96,529.5 L96.4,529.5 L96.8,529.5 L97.2,529.5 L97.6,529.5 L98,529.5 L98.4,529.5 L98.8,529.5 L99.2,529.5 L99.6,529.5 L100,529.5 L100.4,529.5 L100.8,529.5 L101.2,529.5 L101.6,529.5 L102,529.5 L102.4,529.5 L102.8,529.5 L103.2,529.5 L103.6,529.5 L104,529.5 L104.4,529.5 L104.8,529.5 L105.2,529.5 L105.6,529.5 L106,529.5 L106.4,529.5 L106.8,529.5 L107.2,529.5 L107.6,529.5 L108,529.5 L108.4,529.5 L108.8,529.5 L109.2,529.5 L109.6,529.5 L110,529.5 L110.4,529.5 L110.8,529.5 L111.2,529.5 L111.6,529.5 L112,529.5 L112.4,529.5 L112.8,529.5 L113.2,529.5 L113.6,529.5 L114,529.5 L114.4,529.5 L114.8,529.5 L115.2,529.49 L115.6,529.49 L116,529.49 L116.4,529.49 L116.8,529.49 L117.2,529.49 L117.6,529.48 L118,529.48 L118.4,529.48 L118.8,529.47 L119.2,529.47 L119.6,529.46 L120,529.45 L120.4,529.44 L120.8,529.43 L121.2,529.42 L121.6,529.41 L122,529.39 L122.4,529.38 L122.8,529.36 L123.2,529.33 L123.6,529.3 L124,529.27 L124.4,529.23 L124.8,529.19 L125.2,529.14 L125.6,529.09 L126,529.03 L126.4,528.96 L126.8,528.88 L127.2,528.79 L127.6,528.69 L128,528.57 L128.4,528.44 L128.8,528.3 L129.2,528.14 L129.6,527.96 L130,527.75 L130.4,527.53 L130.8,527.28 L131.2,527.01 L131.6,526.7 L132,526.37 L132.4,526 L132.8,525.59 L133.2,525.15 L133.6,524.66 L134,524.13 L134.4,523.55 L134.8,522.92 L135.2,522.24 L135.6,521.5 L136,520.71 L136.4,519.85 L136.8,518.93 L137.2,517.95 L137.6,516.89 L138,515.76 L138.4,514.57 L138.8,513.29 L139.2,511.94 L139.6,510.51 L140,509.01 L140.4,507.42 L140.8,505.76 L141.2,504.02 L141.6,502.2 L142,500.31 L142.4,498.34 L142.8,496.31 L143.2,494.2 L143.6,492.03 L144,489.8 L144.4,487.51 L144.8,485.18 L145.2,482.8 L145.6,480.39 L146,477.94 L146.4,475.48 L146.8,473 L147.2,470.52 L147.6,468.04 L148,465.57 L148.4,463.13 L148.8,460.73 L149.2,458.37 L149.6,456.06 L150,453.82 L150.4,451.65 L150.8,449.57 L151.2,447.59 L151.6,445.71 L152,443.95 L152.4,442.31 L152.8,440.81 L153.2,439.44 L153.6,438.23 L154,437.17 L154.4,436.27 L154.8,435.53 L155.2,434.96 L155.6,434.57 L156,434.35 L156.4,434.31 L156.8,434.44 L157.2,434.74 L157.6,435.23 L158,435.88 L158.4,436.7 L158.8,437.68 L159.2,438.82 L159.6,440.11 L160,441.54 L160.4,443.12 L160.8,444.82 L161.2,446.64 L161.6,448.57 L162,450.6 L162.4,452.73 L162.8,454.93 L163.2,457.21 L163.6,459.54 L164,461.93 L164.4,464.35 L164.8,466.8 L165.2,469.28 L165.6,471.76 L166,474.24 L166.4,476.71 L166.8,479.17 L167.2,481.6 L167.6,484 L168,486.35 L168.4,488.66 L168.8,490.92 L169.2,493.12 L169.6,495.26 L170,497.33 L170.4,499.34 L170.8,501.27 L171.2,503.12 L171.6,504.9 L172,506.6 L172.4,508.23 L172.8,509.77 L173.2,511.24 L173.6,512.63 L174,513.94 L174.4,515.17 L174.8,516.34 L175.2,517.43 L175.6,518.45 L176,519.4 L176.4,520.29 L176.8,521.11 L177.2,521.88 L177.6,522.59 L178,523.24 L178.4,523.85 L178.8,524.4 L179.2,524.91 L179.6,525.37 L180,525.8 L180.4,526.19 L180.8,526.54 L181.2,526.86 L181.6,527.15 L182,527.41 L182.4,527.64 L182.8,527.86 L183.2,528.05 L183.6,528.22 L184,528.37 L184.4,528.51 L184.8,528.63 L185.2,528.74 L185.6,528.83 L186,528.92 L186.4,528.99 L186.8,529.06 L187.2,529.12 L187.6,529.17 L188,529.21 L188.4,529.25 L188.8,529.29 L189.2,529.32 L189.6,529.34 L190,529.37 L190.4,529.39 L190.8,529.4 L191.2,529.42 L191.6,529.43 L192,529.44 L192.4,529.45 L192.8,529.46 L193.2,529.46 L193.6,529.47 L194,529.47 L194.4,529.48 L194.8,529.48" stroke="#ff00ff" stroke-width="2.0" fill="none" stroke-linejoin="round" stroke-linecap="round"/>
<path d="M155.2,529.5 L155.6,529.5 L156,529.5 L156.4,529.49 L156.8,529.49 L157.2,529.49 L157.6,529.48 L158,529.48 L158.4,529.47 L158.8,529.46 L159.2,529.44 L159.6,529.42 L160,529.39 L160.4,529.36 L160.8,529.31 L161.2,529.25 L161.6,529.17 L162,529.07 L162.4,528.94 L162.8,528.78 L163.2,528.58 L163.6,528.33 L164,528.02 L164.4,527.64 L164.8,527.19 L165.2,526.63 L165.6,525.97 L166,525.18 L166.4,524.25 L166.8,523.16 L167.2,521.89 L167.6,520.43 L168,518.75 L168.4,516.85 L168.8,514.7 L169.2,512.3 L169.6,509.63 L170,506.7 L170.4,503.5 L170.8,500.05 L171.2,496.35 L171.6,492.42 L172,488.29 L172.4,483.99 L172.8,479.56 L173.2,475.06 L173.6,470.52 L174,466.02 L174.4,461.61 L174.8,457.35 L175.2,453.32 L175.6,449.57 L176,446.17 L176.4,443.19 L176.8,440.67 L177.2,438.65 L177.6,437.19 L178,436.3 L178.4,436 L178.8,436.3 L179.2,437.19 L179.6,438.65 L180,440.67 L180.4,443.19 L180.8,446.17 L181.2,449.57 L181.6,453.32 L182,457.35 L182.4,461.61 L182.8,466.02 L183.2,470.52 L183.6,475.06 L184,479.56 L184.4,483.99 L184.8,488.29 L185.2,492.42 L185.6,496.35 L186,500.05 L186.4,503.5 L186.8,506.7 L187.2,509.63 L187.6,512.3 L188,514.7 L188.4,516.85 L188.8,518.75 L189.2,520.43 L189.6,521.89 L190,523.16 L190.4,524.25 L190.8,525.18 L191.2,525.97 L191.6,526.63 L192,527.19 L192.4,527.64 L192.8,528.02 L193.2,528.33 L193.6,528.58 L194,528.78 L194.4,528.94 L194.8,529.07 L195.2,529.17 L195.6,529.25 L196,529.31 L196.4,529.36 L196.8,529.39 L197.2,529.42 L197.6,529.44 L198,529.46 L198.4,529.47 L198.8,529.48 L199.2,529.48 L199.6,529.49" stroke="#00ffff" stroke-width="2.0" fill="none" stroke-linejoin="round" stroke-linecap="round"/>
<path d="M205.2,529.5 L205.6,529.5 L206,529.49 L206.4,529.49 L206.8,529.49 L207.2,529.49 L207.6,529.49 L208,529.48 L208.4,529.48 L208.8,529.47 L209.2,529.47 L209.6,529.46 L210,529.45 L210.4,529.44 L210.8,529.42 L211.2,529.4 L211.6,529.38 L212,529.36 L212.4,529.33 L212.8,529.29 L213.2,529.25 L213.6,529.2 L214,529.14 L214.4,529.07 L214.8,528.98 L215.2,528.88 L215.6,528.77 L216,528.64 L216.4,528.48 L216.8,528.3 L217.2,528.09 L217.6,527.85 L218,527.57 L218.4,527.25 L218.8,526.89 L219.2,526.48 L219.6,526.01 L220,525.47 L220.4,524.87 L220.8,524.19 L221.2,523.43 L221.6,522.58 L222,521.63 L222.4,520.57 L222.8,519.4 L223.2,518.1 L223.6,516.66 L224,515.09 L224.4,513.36 L224.8,511.48 L225.2,509.43 L225.6,507.2 L226,504.79 L226.4,502.2 L226.8,499.4 L227.2,496.42 L227.6,493.23 L228,489.83 L228.4,486.24 L228.8,482.44 L229.2,478.44 L229.6,474.25 L230,469.87 L230.4,465.32 L230.8,460.59 L231.2,455.72 L231.6,450.7 L232,445.57 L232.4,440.33 L232.8,435.02 L233.2,429.66 L233.6,424.27 L234,418.88 L234.4,413.51 L234.8,408.21 L235.2,403 L235.6,397.91 L236,392.97 L236.4,388.22 L236.8,383.69 L237.2,379.41 L237.6,375.41 L238,371.72 L238.4,368.37 L238.8,365.38 L239.2,362.77 L239.6,360.56 L240,358.77 L240.4,357.42 L240.8,356.51 L241.2,356.06 L241.6,356.06 L242,356.51 L242.4,357.42 L242.8,358.77 L243.2,360.56 L243.6,362.77 L244,365.38 L244.4,368.37 L244.8,371.72 L245.2,375.41 L245.6,379.41 L246,383.69 L246.4,388.22 L246.8,392.97 L247.2,397.91 L247.6,403 L248,408.21 L248.4,413.51 L248.8,418.88 L249.2,424.27 L249.6,429.66 L250,435.02 L250.4,440.33 L250.8,445.57 L251.2,450.7 L251.6,455.72 L252,460.59 L252.4,465.32 L252.8,469.87 L253.2,474.25 L253.6,478.44 L254,482.44 L254.4,486.24 L254.8,489.83 L255.2,493.23 L255.6,496.42 L256,499.4 L256.4,502.2 L256.8,504.79 L257.2,507.2 L257.6,509.43 L258,511.48 L258.4,513.36 L258.8,515.09 L259.2,516.66 L259.6,518.1 L260,519.4 L260.4,520.57 L260.8,521.63 L261.2,522.58 L261.6,523.43 L262,524.19 L262.4,524.87 L262.8,525.47 L263.2,526.01 L263.6,526.48 L264,526.89 L264.4,527.25 L264.8,527.57 L265.2,527.85 L265.6,528.09 L266,528.3 L266.4,528.48 L266.8,528.64 L267.2,528.77 L267.6,528.88 L268,528.98 L268.4,529.07 L268.8,529.14 L269.2,529.2 L269.6,529.25 L270,529.29 L270.4,529.33 L270.8,529.36 L271.2,529.38 L271.6,529.4" stroke="#0000ff" stroke-width="1.6" fill="none" stroke-linejoin="round" stroke-linecap="round"/>
<path d="M240.4,529.5 L240.8,529.5 L241.2,529.5 L241.6,529.5 L242,529.5 L242.4,529.5 L242.8,529.5 L243.2,529.5 L243.6,529.49 L244,529.49 L244.4,529.48 L244.8,529.47 L245.2,529.45 L245.6,529.43 L246,529.38 L246.4,529.32 L246.8,529.22 L247.2,529.08 L247.6,528.88 L248,528.6 L248.4,528.21 L248.8,527.69 L249.2,527 L249.6,526.1 L250,524.95 L250.4,523.51 L250.8,521.74 L251.2,519.62 L251.6,517.13 L252,514.27 L252.4,511.06 L252.8,507.53 L253.2,503.77 L253.6,499.86 L254,495.92 L254.4,492.08 L254.8,488.49 L255.2,485.3 L255.6,482.65 L256,480.65 L256.4,479.42 L256.8,479 L257.2,479.42 L257.6,480.65 L258,482.65 L258.4,485.3 L258.8,488.49 L259.2,492.08 L259.6,495.92 L260,499.86 L260.4,503.77 L260.8,507.53 L261.2,511.06 L261.6,514.27 L262,517.13 L262.4,519.62 L262.8,521.74 L263.2,523.51 L263.6,524.95 L264,526.1 L264.4,527 L264.8,527.69 L265.2,528.21 L265.6,528.6 L266,528.88 L266.4,529.08 L266.8,529.22 L267.2,529.32 L267.6,529.38 L268,529.43 L268.4,529.45 L268.8,529.47 L269.2,529.48 L269.6,529.49 L270,529.49 L270.4,529.5 L270.8,529.5 L271.2,529.5 L271.6,529.5" stroke="#00ff00" stroke-width="1.6" fill="none" stroke-linejoin="round" stroke-linecap="round"/>
<path d="M244.4,529.49 L244.8,529.49 L245.2,529.48 L245.6,529.47 L246,529.46 L246.4,529.44 L246.8,529.42 L247.2,529.38 L247.6,529.33 L248,529.27 L248.4,529.17 L248.8,529.05 L249.2,528.88 L249.6,528.66 L250,528.37 L250.4,527.99 L250.8,527.5 L251.2,526.88 L251.6,526.1 L252,525.13 L252.4,523.93 L252.8,522.46 L253.2,520.69 L253.6,518.57 L254,516.07 L254.4,513.14 L254.8,509.75 L255.2,505.88 L255.6,501.5 L256,496.61 L256.4,491.22 L256.8,485.34 L257.2,479.01 L257.6,472.31 L258,465.3 L258.4,458.08 L258.8,450.76 L259.2,443.48 L259.6,436.38 L260,429.59 L260.4,423.29 L260.8,417.6 L261.2,412.67 L261.6,408.63 L262,405.58 L262.4,403.6 L262.8,402.74 L263.2,403.02 L263.6,404.45 L264,406.98 L264.4,410.53 L264.8,415.03 L265.2,420.36 L265.6,426.37 L266,432.93 L266.4,439.9 L266.8,447.11 L267.2,454.42 L267.6,461.71 L268,468.84 L268.4,475.7 L268.8,482.23 L269.2,488.33 L269.6,493.98 L270,499.12 L270.4,503.76 L270.8,507.88 L271.2,511.51 L271.6,514.66 L272,517.37 L272.4,519.68 L272.8,521.62 L273.2,523.23 L273.6,524.56 L274,525.64 L274.4,526.51 L274.8,527.21 L275.2,527.76 L275.6,528.19 L276,528.52 L276.4,528.78 L276.8,528.97 L277.2,529.11 L277.6,529.22 L278,529.3 L278.4,529.36 L278.8,529.4 L279.2,529.43 L279.6,529.45 L280,529.47 L280.4,529.48 L280.8,529.49 L281.2,529.49 L281.6,529.49" stroke="#ff0000" stroke-width="1.6" fill="none" stroke-linejoin="round" stroke-linecap="round"/>
<path d="M85.2,529.4 L85.6,529.35 L86,529.29 L86.4,529.21 L86.8,529.09 L87.2,528.94 L87.6,528.75 L88,528.49 L88.4,528.17 L88.8,527.76 L89.2,527.27 L89.6,526.66 L90,525.93 L90.4,525.07 L90.8,524.06 L91.2,522.92 L91.6,521.63 L92,520.2 L92.4,518.65 L92.8,516.99 L93.2,515.26 L93.6,513.49 L94,511.72 L94.4,509.99 L94.8,508.36 L95.2,506.88 L95.6,505.58 L96,504.53 L96.4,503.74 L96.8,503.26 L97.2,503.1 L97.6,503.26 L98,503.74 L98.4,504.53 L98.8,505.58 L99.2,506.88 L99.6,508.36 L100,509.99 L100.4,511.72 L100.8,513.49 L101.2,515.26 L101.6,516.99 L102,518.65 L102.4,520.2 L102.8,521.63 L103.2,522.92 L103.6,524.06 L104,525.07 L104.4,525.93 L104.8,526.66 L105.2,527.27 L105.6,527.76 L106,528.17 L106.4,528.49 L106.8,528.75 L107.2,528.94 L107.6,529.09 L108,529.21 L108.4,529.29 L108.8,529.35" stroke="#a8a800" stroke-width="1.9" fill="none" stroke-linejoin="round" stroke-linecap="round"/>
<path d="M120.4,529.44 L120.8,529.43 L121.2,529.42 L121.6,529.41 L122,529.39 L122.4,529.38 L122.8,529.36 L123.2,529.33 L123.6,529.3 L124,529.27 L124.4,529.23 L124.8,529.19 L125.2,529.14 L125.6,529.09 L126,529.03 L126.4,528.96 L126.8,528.88 L127.2,528.79 L127.6,528.69 L128,528.57 L128.4,528.44 L128.8,528.3 L129.2,528.14 L129.6,527.96 L130,527.75 L130.4,527.53 L130.8,527.28 L131.2,527.01 L131.6,526.7 L132,526.37 L132.4,526 L132.8,525.59 L133.2,525.15 L133.6,524.66 L134,524.13 L134.4,523.55 L134.8,522.92 L135.2,522.24 L135.6,521.5 L136,520.71 L136.4,519.85 L136.8,518.93 L137.2,517.95 L137.6,516.89 L138,515.76 L138.4,514.57 L138.8,513.29 L139.2,511.94 L139.6,510.51 L140,509.01 L140.4,507.42 L140.8,505.76 L141.2,504.02 L141.6,502.2 L142,500.31 L142.4,498.34 L142.8,496.31 L143.2,494.2 L143.6,492.03 L144,489.8 L144.4,487.51 L144.8,485.18 L145.2,482.8 L145.6,480.39 L146,477.94 L146.4,475.48 L146.8,473 L147.2,470.52 L147.6,468.04 L148,465.57 L148.4,463.13 L148.8,460.73 L149.2,458.37 L149.6,456.06 L150,453.82 L150.4,451.65 L150.8,449.57 L151.2,447.59 L151.6,445.71 L152,443.95 L152.4,442.31 L152.8,440.81 L153.2,439.44 L153.6,438.23 L154,437.17 L154.4,436.26 L154.8,435.53 L155.2,434.96 L155.6,434.56 L156,434.34 L156.4,434.3 L156.8,434.42 L157.2,434.72 L157.6,435.19 L158,435.83 L158.4,436.62 L158.8,437.57 L159.2,438.66 L159.6,439.89 L160,441.23 L160.4,442.69 L160.8,444.23 L161.2,445.85 L161.6,447.53 L162,449.25 L162.4,450.98 L162.8,452.71 L163.2,454.43 L163.6,456.12 L164,457.76 L164.4,459.34 L164.8,460.85 L165.2,462.29 L165.6,463.64 L166,464.91 L166.4,466.08 L166.8,467.15 L167.2,468.11 L167.6,468.94 L168,469.62 L168.4,470.13 L168.8,470.44 L169.2,470.54 L169.6,470.38 L170,469.95 L170.4,469.22 L170.8,468.17 L171.2,466.81 L171.6,465.13 L172,463.14 L172.4,460.86 L172.8,458.34 L173.2,455.61 L173.6,452.72 L174,449.75 L174.4,446.75 L174.8,443.79 L175.2,440.96 L175.6,438.31 L176,435.93 L176.4,433.88 L176.8,432.21 L177.2,430.99 L177.6,430.25 L178,430.02 L178.4,430.33 L178.8,431.19 L179.2,432.59 L179.6,434.52 L180,436.96 L180.4,439.87 L180.8,443.21 L181.2,446.93 L181.6,450.96 L182,455.26 L182.4,459.75 L182.8,464.38 L183.2,469.07 L183.6,473.78 L184,478.44 L184.4,483 L184.8,487.42 L185.2,491.66 L185.6,495.68 L186,499.47 L186.4,503 L186.8,506.26 L187.2,509.25 L187.6,511.97 L188,514.41 L188.4,516.6 L188.8,518.54 L189.2,520.25 L189.6,521.74 L190,523.03 L190.4,524.14 L190.8,525.08 L191.2,525.89 L191.6,526.56 L192,527.13 L192.4,527.59 L192.8,527.98 L193.2,528.29 L193.6,528.55 L194,528.75 L194.4,528.92 L194.8,529.05 L195.2,529.15 L195.6,529.24 L196,529.3 L196.4,529.35 L196.8,529.39 L197.2,529.41 L197.6,529.44 L198,529.45 L198.4,529.47 L198.8,529.47 L199.2,529.48 L199.6,529.49 L200,529.49 L200.4,529.49 L200.8,529.49 L201.2,529.5 L201.6,529.5 L202,529.5 L202.4,529.5 L202.8,529.5 L203.2,529.5 L203.6,529.5 L204,529.5 L204.4,529.5 L204.8,529.5 L205.2,529.49 L205.6,529.49 L206,529.49 L206.4,529.49 L206.8,529.49 L207.2,529.48 L207.6,529.48 L208,529.47 L208.4,529.46 L208.8,529.45 L209.2,529.44 L209.6,529.43 L210,529.41 L210.4,529.39 L210.8,529.36 L211.2,529.33 L211.6,529.29 L212,529.25 L212.4,529.19 L212.8,529.13 L213.2,529.05 L213.6,528.96 L214,528.85 L214.4,528.73 L214.8,528.58 L215.2,528.41 L215.6,528.21 L216,527.98 L216.4,527.71 L216.8,527.41 L217.2,527.06 L217.6,526.67 L218,526.22 L218.4,525.71 L218.8,525.14 L219.2,524.5 L219.6,523.78 L220,522.98 L220.4,522.09 L220.8,521.11 L221.2,520.02 L221.6,518.83 L222,517.52 L222.4,516.09 L222.8,514.53 L223.2,512.83 L223.6,511 L224,509.02 L224.4,506.89 L224.8,504.61 L225.2,502.17 L225.6,499.56 L226,496.78 L226.4,493.84 L226.8,490.73 L227.2,487.45 L227.6,484 L228,480.37 L228.4,476.59 L228.8,472.64 L229.2,468.53 L229.6,464.27 L230,459.87 L230.4,455.34 L230.8,450.69 L231.2,445.92 L231.6,441.07 L232,436.13 L232.4,431.14 L232.8,426.1 L233.2,421.06 L233.6,416.02 L234,411.01 L234.4,406.07 L234.8,401.21 L235.2,396.48 L235.6,391.9 L236,387.5 L236.4,383.31 L236.8,379.36 L237.2,375.67 L237.6,372.28 L238,369.19 L238.4,366.43 L238.8,364.02 L239.2,361.97 L239.6,360.27 L240,358.95 L240.4,358 L240.8,357.43 L241.2,357.24 L241.6,357.41 L242,357.96 L242.4,358.88 L242.8,360.16 L243.2,361.79 L243.6,363.76 L244,366.06 L244.4,368.66 L244.8,371.55 L245.2,374.7 L245.6,378.08 L246,381.66 L246.4,385.39 L246.8,389.25 L247.2,393.18 L247.6,397.15 L248,401.12 L248.4,405.03 L248.8,408.84 L249.2,412.49 L249.6,415.94 L250,419.11 L250.4,421.95 L250.8,424.38 L251.2,426.35 L251.6,427.77 L252,428.61 L252.4,428.81 L252.8,428.33 L253.2,427.19 L253.6,425.38 L254,422.95 L254.4,419.97 L254.8,416.52 L255.2,412.71 L255.6,408.66 L256,404.48 L256.4,400.29 L256.8,396.2 L257.2,392.29 L257.6,388.66 L258,385.34 L258.4,382.38 L258.8,379.82 L259.2,377.67 L259.6,375.95 L260,374.68 L260.4,373.88 L260.8,373.6 L261.2,373.87 L261.6,374.73 L262,376.23 L262.4,378.42 L262.8,381.31 L263.2,384.94 L263.6,389.31 L264,394.39 L264.4,400.16 L264.8,406.53 L265.2,413.44 L265.6,420.78 L266,428.44 L266.4,436.31 L266.8,444.26 L267.2,452.18 L267.6,459.94 L268,467.46 L268.4,474.63 L268.8,481.4 L269.2,487.69 L269.6,493.48 L270,498.74 L270.4,503.46 L270.8,507.65 L271.2,511.33 L271.6,514.53 L272,517.27 L272.4,519.6 L272.8,521.55 L273.2,523.18 L273.6,524.52 L274,525.61 L274.4,526.49 L274.8,527.19 L275.2,527.74 L275.6,528.18 L276,528.51 L276.4,528.77 L276.8,528.96 L277.2,529.11 L277.6,529.22 L278,529.3 L278.4,529.36 L278.8,529.4 L279.2,529.43 L279.6,529.45 L280,529.47 L280.4,529.48 L280.8,529.49 L281.2,529.49 L281.6,529.49 L282,529.5 L282.4,529.5 L282.8,529.5 L283.2,529.5 L283.6,529.5 L284,529.5 L284.4,529.5 L284.8,529.5" stroke="#9a9a10" stroke-width="1.6" fill="none" stroke-linejoin="round" stroke-linecap="round" opacity="0.85"/>
<rect x="33.3" y="301.3" width="299.7" height="243.3" fill="none" stroke="#000" stroke-width="2"/>
<path d="M33,544.6 V550.1 M79.13,544.6 V550.1 M125.26,544.6 V550.1 M171.39,544.6 V550.1 M217.52,544.6 V550.1 M263.65,544.6 V550.1 M309.78,544.6 V550.1" stroke="#000" stroke-width="2" fill="none"/>
<text x="33" y="563.4" font-size="13" font-weight="bold" text-anchor="middle" fill="#000">930</text>
<text x="79.13" y="563.4" font-size="13" font-weight="bold" text-anchor="middle" fill="#000">920</text>
<text x="125.26" y="563.4" font-size="13" font-weight="bold" text-anchor="middle" fill="#000">910</text>
<text x="171.39" y="563.4" font-size="13" font-weight="bold" text-anchor="middle" fill="#000">900</text>
<text x="217.52" y="563.4" font-size="13" font-weight="bold" text-anchor="middle" fill="#000">890</text>
<text x="263.65" y="563.4" font-size="13" font-weight="bold" text-anchor="middle" fill="#000">880</text>
<text x="309.78" y="563.4" font-size="13" font-weight="bold" text-anchor="middle" fill="#000">870</text>
<text x="104.8" y="582.6" font-size="15" font-weight="bold" text-anchor="start" fill="#000" textLength="144" lengthAdjust="spacingAndGlyphs">Binding Energy (eV)</text>
<text transform="translate(14.6,485) rotate(-90)" font-size="13.2" font-weight="bold" text-anchor="start" fill="#000" textLength="128.5" lengthAdjust="spacingAndGlyphs">Intensity (Arb.units)</text>
<text x="49.3" y="325.5" font-size="14.2" font-weight="bold" text-anchor="start" fill="#000">(c)</text>
<text x="285.3" y="326.9" font-size="14.5" font-weight="bold" text-anchor="start" fill="#000" textLength="39.6" lengthAdjust="spacingAndGlyphs">Ce 3d</text>
<text transform="translate(103.8,499) rotate(-90)" font-size="10.6" font-weight="bold" text-anchor="start" fill="#000" textLength="30.5" lengthAdjust="spacingAndGlyphs">916.09</text>
<text transform="translate(162,425) rotate(-90)" font-size="10.4" font-weight="bold" text-anchor="start" fill="#000" textLength="24.8" lengthAdjust="spacingAndGlyphs">903.6</text>
<text transform="translate(183.4,429) rotate(-90)" font-size="10.4" font-weight="bold" text-anchor="start" fill="#000" textLength="31.5" lengthAdjust="spacingAndGlyphs">898.45</text>
<text transform="translate(246.8,339.6) rotate(-90)" font-size="10.4" font-weight="bold" text-anchor="start" fill="#000" textLength="24.5" lengthAdjust="spacingAndGlyphs">884.7</text>
<text transform="translate(258.2,377.2) rotate(-90)" font-size="10.4" font-weight="bold" text-anchor="start" fill="#000" textLength="30" lengthAdjust="spacingAndGlyphs">881.55</text>
<text transform="translate(269.9,375.7) rotate(-90)" font-size="10.4" font-weight="bold" text-anchor="start" fill="#000" textLength="29.5" lengthAdjust="spacingAndGlyphs">880.54</text>
<path d="M412.7,545.9 L413.14,545.54 L413.71,545.02 L414.4,544.39 L415.16,543.72 L415.98,543.08 L416.83,542.52 L417.68,542.1 L418.5,541.9 L419.31,541.97 L420.15,542.29 L421.02,542.76 L421.89,543.31 L422.79,543.86 L423.69,544.33 L424.59,544.64 L425.5,544.7 L426.4,544.51 L427.31,544.13 L428.21,543.62 L429.13,543.01 L430.06,542.35 L431.01,541.68 L431.99,541.05 L433,540.5 L434.05,539.97 L435.15,539.39 L436.29,538.79 L437.44,538.21 L438.59,537.69 L439.73,537.26 L440.84,536.95 L441.9,536.8 L442.93,536.89 L443.94,537.22 L444.93,537.7 L445.91,538.26 L446.86,538.81 L447.79,539.27 L448.71,539.56 L449.6,539.6 L450.46,539.37 L451.28,538.94 L452.07,538.35 L452.85,537.67 L453.62,536.94 L454.4,536.22 L455.18,535.55 L456,535 L456.84,534.48 L457.69,533.93 L458.54,533.37 L459.41,532.84 L460.28,532.4 L461.15,532.06 L462.02,531.88 L462.9,531.9 L463.78,532.15 L464.67,532.62 L465.56,533.25 L466.45,533.99 L467.34,534.79 L468.23,535.6 L469.12,536.35 L470,537 L470.87,537.64 L471.73,538.36 L472.59,539.1 L473.45,539.81 L474.31,540.43 L475.17,540.9 L476.03,541.18 L476.9,541.2 L477.77,540.91 L478.64,540.35 L479.5,539.58 L480.38,538.66 L481.26,537.68 L482.15,536.7 L483.06,535.78 L484,535 L484.99,534.29 L486.03,533.55 L487.11,532.81 L488.2,532.11 L489.27,531.46 L490.29,530.91 L491.24,530.48 L492.1,530.2 L492.83,530.16 L493.43,530.37 L493.96,530.74 L494.44,531.18 L494.93,531.61 L495.46,531.93 L496.07,532.05 L496.8,531.9 L497.66,531.44 L498.61,530.75 L499.62,529.89 L500.69,528.92 L501.78,527.88 L502.88,526.85 L503.96,525.87 L505,525 L506.03,524.15 L507.07,523.21 L508.11,522.25 L509.15,521.33 L510.18,520.51 L511.18,519.84 L512.16,519.38 L513.1,519.2 L514.01,519.4 L514.89,519.97 L515.74,520.8 L516.58,521.76 L517.39,522.74 L518.18,523.62 L518.95,524.28 L519.7,524.6 L520.43,524.59 L521.14,524.38 L521.82,523.99 L522.48,523.48 L523.13,522.88 L523.76,522.24 L524.38,521.6 L525,521 L525.63,520.37 L526.29,519.63 L526.94,518.83 L527.58,518.02 L528.18,517.24 L528.71,516.53 L529.16,515.94 L529.5,513.15 L530,512.23 L530.5,511.29 L531,510.32 L531.5,509.33 L532,508.32 L532.5,507.28 L533,506.22 L533.5,505.14 L534,504.04 L534.5,502.92 L535,501.78 L535.5,500.63 L536,499.45 L536.5,498.26 L537,497.05 L537.5,495.83 L538,494.59 L538.5,493.34 L539,492.08 L539.5,490.81 L540,489.53 L540.5,488.24 L541,486.94 L541.5,485.64 L542,484.34 L542.5,483.04 L543,481.73 L543.5,480.43 L544,479.13 L544.5,477.84 L545,476.55 L545.5,475.27 L546,474 L546.5,472.75 L547,471.5 L547.5,470.28 L548,469.07 L548.5,467.88 L549,466.71 L549.5,465.56 L550,464.44 L550.5,463.35 L551,462.28 L551.5,461.24 L552,460.24 L552.5,459.27 L553,458.33 L553.5,457.43 L554,456.57 L554.5,455.74 L555,454.96 L555.5,454.22 L556,453.52 L556.5,452.86 L557,452.25 L557.5,451.68 L558,451.16 L558.5,450.68 L559,450.26 L559.5,449.88 L560,449.55 L560.5,449.27 L561,449.05 L561.5,448.88 L562,448.76 L562.5,448.72 L563,448.74 L563.5,448.83 L564,449 L564.5,449.25 L565,449.58 L565.5,449.99 L566,450.47 L566.5,451.01 L567,451.58 L567.5,452.16 L568,452.73 L568.5,453.24 L569,453.68 L569.5,454.01 L570,454.21 L570.5,454.27 L571,454.18 L571.5,453.96 L572,453.62 L572.5,453.17 L573,452.62 L573.5,452.01 L574,451.35 L574.5,450.64 L575,449.9 L575.5,449.13 L576,448.34 L576.5,447.51 L577,446.66 L577.5,445.78 L578,444.87 L578.5,443.93 L579,442.97 L579.5,441.99 L580,440.99 L580.5,440 L581,439 L581.5,438 L582,437.02 L582.5,436.05 L583,435.09 L583.5,434.14 L584,433.2 L584.5,432.26 L585,431.32 L585.5,430.36 L586,429.38 L586.5,428.36 L587,427.29 L587.5,426.16 L588,424.96 L588.5,423.67 L589,422.29 L589.5,420.81 L590,419.22 L590.5,417.52 L591,415.7 L591.5,413.78 L592,411.74 L592.5,409.6 L593,407.35 L593.5,405.02 L594,402.61 L594.5,400.13 L595,397.6 L595.5,395.02 L596,392.42 L596.5,389.82 L597,387.22 L597.5,384.64 L598,382.1 L598.5,379.62 L599,377.21 L599.5,374.89 L600,372.66 L600.5,370.56 L601,368.58 L601.5,366.74 L602,365.05 L602.5,363.53 L603,362.18 L603.5,361.02 L604,360.04 L604.5,359.27 L605,358.7 L605.5,358.34 L606,358.19 L606.5,358.27 L607,358.56 L607.5,359.08 L608,359.81 L608.5,360.77 L609,361.94 L609.5,363.33 L610,364.93 L610.5,366.74 L611,368.75 L611.5,370.95 L612,373.34 L612.5,375.9 L613,378.64 L613.5,381.54 L614,384.59 L614.5,387.77 L615,391.09 L615.5,394.52 L616,398.06 L616.5,401.7 L617,405.41 L617.5,409.2 L618,413.04 L618.5,416.93 L619,420.85 L619.5,424.8 L620,428.76 L620.5,432.72 L621,436.66 L621.5,440.59 L622,444.49 L622.5,448.35 L623,452.16 L623.5,455.91 L624,459.6 L624.5,463.22 L625,466.76 L625.5,470.21 L626,473.58 L626.5,476.86 L626.86,479.79 L627.21,482.93 L627.56,486.23 L627.91,489.61 L628.26,493.03 L628.6,496.4 L628.95,499.68 L629.3,502.8 L629.65,505.85 L630,508.92 L630.35,511.98 L630.7,514.96 L631.05,517.81 L631.4,520.49 L631.75,522.94 L632.1,525.1 L632.45,526.97 L632.8,528.59 L633.15,530 L633.5,531.22 L633.85,532.29 L634.2,533.24 L634.55,534.1 L634.9,534.9 L635.25,535.62 L635.6,536.22 L635.95,536.71 L636.3,537.09 L636.65,537.37 L637,537.56 L637.35,537.67 L637.7,537.7 L638.01,537.72 L638.27,537.75 L638.51,537.73 L638.76,537.61 L639.05,537.32 L639.41,536.81 L639.89,536.02 L640.5,534.9 L641.27,533.35 L642.19,531.39 L643.21,529.11 L644.3,526.64 L645.44,524.06 L646.59,521.49 L647.72,519.04 L648.8,516.8 L649.9,514.64 L651.09,512.4 L652.31,510.15 L653.52,507.97 L654.66,505.93 L655.69,504.1 L656.55,502.57 L657.2,501.4" stroke="#000" stroke-width="1.6" fill="none" stroke-linejoin="round" stroke-linecap="round"/>
<path d="M398.7,535.2 L399.2,535.2 L399.7,535.2 L400.2,535.2 L400.7,535.2 L401.2,535.2 L401.7,535.2 L402.2,535.2 L402.7,535.2 L403.21,535.2 L403.71,535.2 L404.21,535.2 L404.71,535.2 L405.21,535.2 L405.71,535.2 L406.21,535.2 L406.71,535.2 L407.21,535.2 L407.71,535.2 L408.21,535.2 L408.71,535.2 L409.21,535.2 L409.71,535.2 L410.21,535.2 L410.71,535.2 L411.21,535.2 L411.72,535.2 L412.22,535.2 L412.72,535.2 L413.22,535.2 L413.72,535.2 L414.22,535.2 L414.72,535.2 L415.22,535.2 L415.72,535.2 L416.22,535.2 L416.72,535.2 L417.22,535.2 L417.72,535.2 L418.22,535.2 L418.72,535.2 L419.22,535.2 L419.72,535.2 L420.22,535.2 L420.73,535.2 L421.23,535.2 L421.73,535.2 L422.23,535.2 L422.73,535.2 L423.23,535.2 L423.73,535.2 L424.23,535.2 L424.73,535.2 L425.23,535.2 L425.73,535.2 L426.23,535.2 L426.73,535.2 L427.23,535.2 L427.73,535.2 L428.23,535.2 L428.73,535.2 L429.24,535.2 L429.74,535.2 L430.24,535.2 L430.74,535.2 L431.24,535.2 L431.74,535.2 L432.24,535.2 L432.74,535.2 L433.24,535.2 L433.74,535.2 L434.24,535.2 L434.74,535.2 L435.24,535.2 L435.74,535.2 L436.24,535.2 L436.74,535.2 L437.24,535.2 L437.75,535.2 L438.25,535.2 L438.75,535.2 L439.25,535.2 L439.75,535.2 L440.25,535.2 L440.75,535.2 L441.25,535.2 L441.75,535.2 L442.25,535.2 L442.75,535.2 L443.25,535.2 L443.75,535.2 L444.25,535.2 L444.75,535.2 L445.25,535.2 L445.75,535.2 L446.26,535.2 L446.76,535.2 L447.26,535.2 L447.76,535.2 L448.26,535.2 L448.76,535.2 L449.26,535.2 L449.76,535.2 L450.26,535.2 L450.76,535.2 L451.26,535.2 L451.76,535.2 L452.26,535.2 L452.76,535.2 L453.26,535.2 L453.76,535.2 L454.26,535.2 L454.76,535.2 L455.27,535.2 L455.77,535.2 L456.27,535.2 L456.77,535.2 L457.27,535.2 L457.77,535.2 L458.27,535.2 L458.77,535.2 L459.27,535.2 L459.77,535.2 L460.27,535.2 L460.77,535.2 L461.27,535.2 L461.77,535.2 L462.27,535.2 L462.77,535.2 L463.27,535.2 L463.78,535.2 L464.28,535.2 L464.78,535.2 L465.28,535.2 L465.78,535.2 L466.28,535.2 L466.78,535.2 L467.28,535.2 L467.78,535.2 L468.28,535.2 L468.78,535.2 L469.28,535.2 L469.78,535.2 L470.28,535.2 L470.78,535.2 L471.28,535.2 L471.78,535.2 L472.29,535.2 L472.79,535.2 L473.29,535.2 L473.79,535.2 L474.29,535.2 L474.79,535.2 L475.29,535.2 L475.79,535.2 L476.29,535.2 L476.79,535.2 L477.29,535.2 L477.79,535.2 L478.29,535.2 L478.79,535.2 L479.29,535.2 L479.79,535.2 L480.29,535.2 L480.8,535.2 L481.3,535.2 L481.8,535.2 L482.3,535.2 L482.8,535.2 L483.3,535.2 L483.8,535.2 L484.3,535.2 L484.8,535.2 L485.3,535.2 L485.8,535.2 L486.3,535.2 L486.8,535.2 L487.3,535.2 L487.8,535.2 L488.3,535.2 L488.8,535.2 L489.31,535.2 L489.81,535.2 L490.31,535.2 L490.81,535.2 L491.31,535.2 L491.81,535.2 L492.31,535.2 L492.81,535.2 L493.31,535.2 L493.81,535.2 L494.31,535.2 L494.81,535.2 L495.31,535.2 L495.81,535.2 L496.31,535.2 L496.81,535.2 L497.31,535.2 L497.81,535.2 L498.32,535.2 L498.82,535.2 L499.32,535.2 L499.82,535.2 L500.32,535.2 L500.82,535.2 L501.32,535.2 L501.82,535.2 L502.32,535.2 L502.82,535.2 L503.32,535.2 L503.82,535.2 L504.32,535.2 L504.82,535.2 L505.32,535.2 L505.82,535.2 L506.32,535.2 L506.83,535.2 L507.33,535.2 L507.83,535.2 L508.33,535.2 L508.83,535.2 L509.33,535.2 L509.83,535.2 L510.33,535.2 L510.83,535.2 L511.33,535.2 L511.83,535.2 L512.33,535.2 L512.83,535.2 L513.33,535.2 L513.83,535.2 L514.33,535.2 L514.83,535.2 L515.34,535.2 L515.84,535.2 L516.34,535.2 L516.84,535.2 L517.34,535.2 L517.84,535.2 L518.34,535.2 L518.84,535.2 L519.34,535.2 L519.84,535.2 L520.34,535.2 L520.84,535.2 L521.34,535.2 L521.84,535.2 L522.34,535.2 L522.84,535.2 L523.34,535.2 L523.85,535.2 L524.35,535.2 L524.85,535.2 L525.35,535.2 L525.85,535.2 L526.35,535.2 L526.85,535.2 L527.35,535.2 L527.85,535.2 L528.35,535.2 L528.85,535.2 L529.35,535.2 L529.85,535.2 L530.35,535.2 L530.85,535.2 L531.35,535.2 L531.85,535.2 L532.35,535.2 L532.86,535.2 L533.36,535.2 L533.86,535.2 L534.36,535.2 L534.86,535.2 L535.36,535.2 L535.86,535.2 L536.36,535.2 L536.86,535.2 L537.36,535.2 L537.86,535.2 L538.36,535.2 L538.86,535.2 L539.36,535.2 L539.86,535.2 L540.36,535.2 L540.86,535.2 L541.37,535.2 L541.87,535.2 L542.37,535.2 L542.87,535.2 L543.37,535.2 L543.87,535.2 L544.37,535.2 L544.87,535.2 L545.37,535.2 L545.87,535.2 L546.37,535.2 L546.87,535.2 L547.37,535.2 L547.87,535.19 L548.37,535.19 L548.87,535.19 L549.37,535.19 L549.88,535.19 L550.38,535.19 L550.88,535.19 L551.38,535.18 L551.88,535.18 L552.38,535.18 L552.88,535.17 L553.38,535.17 L553.88,535.16 L554.38,535.15 L554.88,535.15 L555.38,535.14 L555.88,535.13 L556.38,535.12 L556.88,535.1 L557.38,535.09 L557.88,535.07 L558.39,535.05 L558.89,535.02 L559.39,535 L559.89,534.96 L560.39,534.93 L560.89,534.89 L561.39,534.84 L561.89,534.79 L562.39,534.73 L562.89,534.66 L563.39,534.58 L563.89,534.5 L564.39,534.4 L564.89,534.29 L565.39,534.17 L565.89,534.04 L566.39,533.88 L566.89,533.71 L567.4,533.52 L567.9,533.31 L568.4,533.08 L568.9,532.82 L569.4,532.53 L569.9,532.22 L570.4,531.87 L570.9,531.48 L571.4,531.06 L571.9,530.6 L572.4,530.09 L572.9,529.53 L573.4,528.93 L573.9,528.27 L574.4,527.55 L574.9,526.77 L575.4,525.93 L575.91,525.01 L576.41,524.03 L576.91,522.96 L577.41,521.82 L577.91,520.59 L578.41,519.27 L578.91,517.87 L579.41,516.36 L579.91,514.76 L580.41,513.05 L580.91,511.24 L581.41,509.32 L581.91,507.29 L582.41,505.14 L582.91,502.88 L583.41,500.5 L583.91,498.01 L584.42,495.39 L584.92,492.66 L585.42,489.81 L585.92,486.84 L586.42,483.76 L586.92,480.56 L587.42,477.25 L587.92,473.84 L588.42,470.32 L588.92,466.71 L589.42,463.01 L589.92,459.23 L590.42,455.36 L590.92,451.43 L591.42,447.44 L591.92,443.41 L592.42,439.33 L592.93,435.22 L593.43,431.1 L593.93,426.97 L594.43,422.86 L594.93,418.76 L595.43,414.7 L595.93,410.68 L596.43,406.73 L596.93,402.86 L597.43,399.08 L597.93,395.41 L598.43,391.85 L598.93,388.43 L599.43,385.16 L599.93,382.05 L600.43,379.11 L600.93,376.36 L601.44,373.81 L601.94,371.47 L602.44,369.35 L602.94,367.45 L603.44,365.8 L603.94,364.39 L604.44,363.23 L604.94,362.33 L605.44,361.69 L605.94,361.31 L606.44,361.2 L606.94,361.36 L607.44,361.78 L607.94,362.46 L608.44,363.4 L608.94,364.6 L609.44,366.05 L609.94,367.75 L610.45,369.68 L610.95,371.84 L611.45,374.21 L611.95,376.8 L612.45,379.58 L612.95,382.54 L613.45,385.68 L613.95,388.98 L614.45,392.42 L614.95,396 L615.45,399.69 L615.95,403.49 L616.45,407.37 L616.95,411.33 L617.45,415.36 L617.95,419.42 L618.45,423.53 L618.96,427.65 L619.46,431.77 L619.96,435.89 L620.46,440 L620.96,444.07 L621.46,448.1 L621.96,452.08 L622.46,456 L622.96,459.85 L623.46,463.62 L623.96,467.31 L624.46,470.9 L624.96,474.4 L625.46,477.8 L625.96,481.09 L626.46,484.27 L626.96,487.33 L627.47,490.28 L627.97,493.11 L628.47,495.83 L628.97,498.42 L629.47,500.9 L629.97,503.26 L630.47,505.5 L630.97,507.63 L631.47,509.64 L631.97,511.54 L632.47,513.34 L632.97,515.03 L633.47,516.61 L633.97,518.1 L634.47,519.5 L634.97,520.8 L635.47,522.01 L635.98,523.14 L636.48,524.19 L636.98,525.17 L637.48,526.07 L637.98,526.9 L638.48,527.67 L638.98,528.38 L639.48,529.03 L639.98,529.63 L640.48,530.17 L640.98,530.67 L641.48,531.13 L641.98,531.55 L642.48,531.93 L642.98,532.27 L643.48,532.58 L643.98,532.86 L644.48,533.12 L644.99,533.35 L645.49,533.56 L645.99,533.74 L646.49,533.91 L646.99,534.06 L647.49,534.19 L647.99,534.31 L648.49,534.42 L648.99,534.51 L649.49,534.6 L649.99,534.67 L650.49,534.74 L650.99,534.8 L651.49,534.85 L651.99,534.89 L652.49,534.93 L652.99,534.97 L653.5,535 L654,535.03 L654.5,535.05 L655,535.07 L655.5,535.09 L656,535.1 L656.5,535.12 L657,535.13 L657.5,535.14" stroke="#ff0000" stroke-width="2.4" fill="none" stroke-linejoin="round" stroke-linecap="round"/>
<path d="M398.7,535.2 L399.2,535.2 L399.7,535.2 L400.2,535.2 L400.7,535.2 L401.2,535.2 L401.7,535.2 L402.2,535.2 L402.7,535.2 L403.21,535.2 L403.71,535.2 L404.21,535.2 L404.71,535.2 L405.21,535.2 L405.71,535.2 L406.21,535.2 L406.71,535.2 L407.21,535.2 L407.71,535.2 L408.21,535.2 L408.71,535.2 L409.21,535.2 L409.71,535.2 L410.21,535.2 L410.71,535.2 L411.21,535.2 L411.72,535.2 L412.22,535.2 L412.72,535.2 L413.22,535.2 L413.72,535.2 L414.22,535.2 L414.72,535.2 L415.22,535.2 L415.72,535.2 L416.22,535.2 L416.72,535.2 L417.22,535.2 L417.72,535.2 L418.22,535.2 L418.72,535.2 L419.22,535.2 L419.72,535.2 L420.22,535.2 L420.73,535.2 L421.23,535.2 L421.73,535.2 L422.23,535.2 L422.73,535.2 L423.23,535.2 L423.73,535.2 L424.23,535.2 L424.73,535.2 L425.23,535.2 L425.73,535.2 L426.23,535.2 L426.73,535.2 L427.23,535.2 L427.73,535.2 L428.23,535.2 L428.73,535.2 L429.24,535.2 L429.74,535.2 L430.24,535.2 L430.74,535.2 L431.24,535.2 L431.74,535.2 L432.24,535.2 L432.74,535.2 L433.24,535.2 L433.74,535.2 L434.24,535.2 L434.74,535.2 L435.24,535.2 L435.74,535.2 L436.24,535.2 L436.74,535.2 L437.24,535.2 L437.75,535.2 L438.25,535.2 L438.75,535.2 L439.25,535.2 L439.75,535.2 L440.25,535.2 L440.75,535.2 L441.25,535.2 L441.75,535.2 L442.25,535.2 L442.75,535.2 L443.25,535.2 L443.75,535.2 L444.25,535.2 L444.75,535.2 L445.25,535.2 L445.75,535.2 L446.26,535.2 L446.76,535.2 L447.26,535.2 L447.76,535.2 L448.26,535.2 L448.76,535.2 L449.26,535.2 L449.76,535.2 L450.26,535.2 L450.76,535.2 L451.26,535.2 L451.76,535.2 L452.26,535.2 L452.76,535.2 L453.26,535.2 L453.76,535.2 L454.26,535.2 L454.76,535.2 L455.27,535.2 L455.77,535.2 L456.27,535.2 L456.77,535.2 L457.27,535.2 L457.77,535.2 L458.27,535.2 L458.77,535.2 L459.27,535.2 L459.77,535.2 L460.27,535.2 L460.77,535.2 L461.27,535.2 L461.77,535.2 L462.27,535.2 L462.77,535.2 L463.27,535.2 L463.78,535.2 L464.28,535.2 L464.78,535.2 L465.28,535.2 L465.78,535.2 L466.28,535.2 L466.78,535.2 L467.28,535.2 L467.78,535.2 L468.28,535.2 L468.78,535.2 L469.28,535.2 L469.78,535.2 L470.28,535.2 L470.78,535.2 L471.28,535.19 L471.78,535.19 L472.29,535.19 L472.79,535.19 L473.29,535.19 L473.79,535.19 L474.29,535.19 L474.79,535.19 L475.29,535.19 L475.79,535.19 L476.29,535.19 L476.79,535.18 L477.29,535.18 L477.79,535.18 L478.29,535.18 L478.79,535.18 L479.29,535.17 L479.79,535.17 L480.29,535.17 L480.8,535.17 L481.3,535.16 L481.8,535.16 L482.3,535.15 L482.8,535.15 L483.3,535.15 L483.8,535.14 L484.3,535.13 L484.8,535.13 L485.3,535.12 L485.8,535.12 L486.3,535.11 L486.8,535.1 L487.3,535.09 L487.8,535.08 L488.3,535.07 L488.8,535.06 L489.31,535.05 L489.81,535.03 L490.31,535.02 L490.81,535 L491.31,534.98 L491.81,534.97 L492.31,534.95 L492.81,534.93 L493.31,534.9 L493.81,534.88 L494.31,534.85 L494.81,534.82 L495.31,534.79 L495.81,534.76 L496.31,534.73 L496.81,534.69 L497.31,534.65 L497.81,534.61 L498.32,534.56 L498.82,534.51 L499.32,534.46 L499.82,534.41 L500.32,534.35 L500.82,534.28 L501.32,534.22 L501.82,534.14 L502.32,534.07 L502.82,533.99 L503.32,533.9 L503.82,533.81 L504.32,533.71 L504.82,533.61 L505.32,533.5 L505.82,533.39 L506.32,533.27 L506.83,533.14 L507.33,533 L507.83,532.86 L508.33,532.7 L508.83,532.54 L509.33,532.38 L509.83,532.2 L510.33,532.01 L510.83,531.81 L511.33,531.6 L511.83,531.39 L512.33,531.16 L512.83,530.92 L513.33,530.66 L513.83,530.4 L514.33,530.12 L514.83,529.83 L515.34,529.53 L515.84,529.21 L516.34,528.88 L516.84,528.53 L517.34,528.17 L517.84,527.79 L518.34,527.4 L518.84,526.99 L519.34,526.56 L519.84,526.12 L520.34,525.66 L520.84,525.18 L521.34,524.69 L521.84,524.17 L522.34,523.64 L522.84,523.09 L523.34,522.51 L523.85,521.92 L524.35,521.31 L524.85,520.68 L525.35,520.03 L525.85,519.36 L526.35,518.66 L526.85,517.95 L527.35,517.22 L527.85,516.46 L528.35,515.69 L528.85,514.89 L529.35,514.08 L529.85,513.24 L530.35,512.38 L530.85,511.5 L531.35,510.6 L531.85,509.69 L532.35,508.75 L532.86,507.79 L533.36,506.82 L533.86,505.82 L534.36,504.81 L534.86,503.78 L535.36,502.74 L535.86,501.68 L536.36,500.6 L536.86,499.51 L537.36,498.4 L537.86,497.28 L538.36,496.15 L538.86,495.01 L539.36,493.86 L539.86,492.7 L540.36,491.52 L540.86,490.35 L541.37,489.16 L541.87,487.98 L542.37,486.78 L542.87,485.59 L543.37,484.39 L543.87,483.2 L544.37,482 L544.87,480.81 L545.37,479.63 L545.87,478.44 L546.37,477.27 L546.87,476.11 L547.37,474.95 L547.87,473.81 L548.37,472.68 L548.87,471.56 L549.37,470.46 L549.88,469.38 L550.38,468.32 L550.88,467.28 L551.38,466.26 L551.88,465.26 L552.38,464.29 L552.88,463.35 L553.38,462.43 L553.88,461.55 L554.38,460.69 L554.88,459.87 L555.38,459.08 L555.88,458.32 L556.38,457.6 L556.88,456.92 L557.38,456.27 L557.88,455.67 L558.39,455.1 L558.89,454.58 L559.39,454.09 L559.89,453.65 L560.39,453.26 L560.89,452.9 L561.39,452.59 L561.89,452.33 L562.39,452.11 L562.89,451.94 L563.39,451.81 L563.89,451.73 L564.39,451.7 L564.89,451.71 L565.39,451.77 L565.89,451.88 L566.39,452.03 L566.89,452.23 L567.4,452.48 L567.9,452.76 L568.4,453.1 L568.9,453.48 L569.4,453.9 L569.9,454.36 L570.4,454.87 L570.9,455.42 L571.4,456.01 L571.9,456.64 L572.4,457.3 L572.9,458.01 L573.4,458.75 L573.9,459.52 L574.4,460.33 L574.9,461.17 L575.4,462.05 L575.91,462.95 L576.41,463.88 L576.91,464.84 L577.41,465.83 L577.91,466.84 L578.41,467.87 L578.91,468.92 L579.41,469.99 L579.91,471.09 L580.41,472.19 L580.91,473.32 L581.41,474.46 L581.91,475.61 L582.41,476.77 L582.91,477.94 L583.41,479.12 L583.91,480.3 L584.42,481.49 L584.92,482.68 L585.42,483.88 L585.92,485.07 L586.42,486.27 L586.92,487.46 L587.42,488.65 L587.92,489.84 L588.42,491.02 L588.92,492.19 L589.42,493.36 L589.92,494.51 L590.42,495.66 L590.92,496.8 L591.42,497.92 L591.92,499.03 L592.42,500.13 L592.93,501.21 L593.43,502.28 L593.93,503.33 L594.43,504.37 L594.93,505.39 L595.43,506.39 L595.93,507.37 L596.43,508.34 L596.93,509.28 L597.43,510.21 L597.93,511.12 L598.43,512 L598.93,512.87 L599.43,513.72 L599.93,514.54 L600.43,515.35 L600.93,516.13 L601.44,516.89 L601.94,517.64 L602.44,518.36 L602.94,519.06 L603.44,519.74 L603.94,520.4 L604.44,521.04 L604.94,521.66 L605.44,522.26 L605.94,522.84 L606.44,523.4 L606.94,523.94 L607.44,524.47 L607.94,524.97 L608.44,525.46 L608.94,525.92 L609.44,526.37 L609.94,526.81 L610.45,527.22 L610.95,527.62 L611.45,528.01 L611.95,528.38 L612.45,528.73 L612.95,529.07 L613.45,529.39 L613.95,529.7 L614.45,530 L614.95,530.28 L615.45,530.55 L615.95,530.81 L616.45,531.05 L616.95,531.29 L617.45,531.51 L617.95,531.72 L618.45,531.93 L618.96,532.12 L619.46,532.3 L619.96,532.47 L620.46,532.64 L620.96,532.79 L621.46,532.94 L621.96,533.08 L622.46,533.21 L622.96,533.34 L623.46,533.45 L623.96,533.57 L624.46,533.67 L624.96,533.77 L625.46,533.86 L625.96,533.95 L626.46,534.03 L626.96,534.11 L627.47,534.19 L627.97,534.25 L628.47,534.32 L628.97,534.38 L629.47,534.44 L629.97,534.49 L630.47,534.54 L630.97,534.59 L631.47,534.63 L631.97,534.67 L632.47,534.71 L632.97,534.75 L633.47,534.78 L633.97,534.81 L634.47,534.84 L634.97,534.87 L635.47,534.89 L635.98,534.92 L636.48,534.94 L636.98,534.96 L637.48,534.98 L637.98,534.99 L638.48,535.01 L638.98,535.03 L639.48,535.04 L639.98,535.05 L640.48,535.06 L640.98,535.08 L641.48,535.09 L641.98,535.1 L642.48,535.1 L642.98,535.11 L643.48,535.12 L643.98,535.13 L644.48,535.13 L644.99,535.14 L645.49,535.14 L645.99,535.15 L646.49,535.15 L646.99,535.16 L647.49,535.16 L647.99,535.16 L648.49,535.17 L648.99,535.17 L649.49,535.17 L649.99,535.18 L650.49,535.18 L650.99,535.18 L651.49,535.18 L651.99,535.18 L652.49,535.18 L652.99,535.19 L653.5,535.19 L654,535.19 L654.5,535.19 L655,535.19 L655.5,535.19 L656,535.19 L656.5,535.19 L657,535.19 L657.5,535.19" stroke="#00e000" stroke-width="2.4" fill="none" stroke-linejoin="round" stroke-linecap="round"/>
<path d="M398.7,535.2 L399.2,535.2 L399.7,535.2 L400.2,535.2 L400.7,535.2 L401.2,535.2 L401.7,535.2 L402.2,535.2 L402.7,535.2 L403.21,535.2 L403.71,535.2 L404.21,535.2 L404.71,535.2 L405.21,535.2 L405.71,535.2 L406.21,535.2 L406.71,535.2 L407.21,535.2 L407.71,535.2 L408.21,535.2 L408.71,535.2 L409.21,535.2 L409.71,535.2 L410.21,535.2 L410.71,535.2 L411.21,535.2 L411.72,535.2 L412.22,535.2 L412.72,535.2 L413.22,535.2 L413.72,535.2 L414.22,535.2 L414.72,535.2 L415.22,535.2 L415.72,535.2 L416.22,535.2 L416.72,535.2 L417.22,535.2 L417.72,535.2 L418.22,535.2 L418.72,535.2 L419.22,535.2 L419.72,535.2 L420.22,535.2 L420.73,535.2 L421.23,535.2 L421.73,535.2 L422.23,535.2 L422.73,535.2 L423.23,535.2 L423.73,535.2 L424.23,535.2 L424.73,535.2 L425.23,535.2 L425.73,535.2 L426.23,535.2 L426.73,535.2 L427.23,535.2 L427.73,535.2 L428.23,535.2 L428.73,535.2 L429.24,535.2 L429.74,535.2 L430.24,535.2 L430.74,535.2 L431.24,535.2 L431.74,535.2 L432.24,535.2 L432.74,535.2 L433.24,535.2 L433.74,535.2 L434.24,535.2 L434.74,535.2 L435.24,535.2 L435.74,535.2 L436.24,535.2 L436.74,535.2 L437.24,535.2 L437.75,535.2 L438.25,535.2 L438.75,535.2 L439.25,535.2 L439.75,535.2 L440.25,535.2 L440.75,535.2 L441.25,535.2 L441.75,535.2 L442.25,535.2 L442.75,535.2 L443.25,535.2 L443.75,535.2 L444.25,535.2 L444.75,535.2 L445.25,535.2 L445.75,535.2 L446.26,535.2 L446.76,535.2 L447.26,535.2 L447.76,535.2 L448.26,535.2 L448.76,535.2 L449.26,535.2 L449.76,535.2 L450.26,535.2 L450.76,535.2 L451.26,535.2 L451.76,535.2 L452.26,535.2 L452.76,535.2 L453.26,535.2 L453.76,535.2 L454.26,535.2 L454.76,535.2 L455.27,535.2 L455.77,535.2 L456.27,535.2 L456.77,535.2 L457.27,535.2 L457.77,535.2 L458.27,535.2 L458.77,535.2 L459.27,535.2 L459.77,535.2 L460.27,535.2 L460.77,535.2 L461.27,535.2 L461.77,535.2 L462.27,535.2 L462.77,535.2 L463.27,535.2 L463.78,535.2 L464.28,535.2 L464.78,535.2 L465.28,535.2 L465.78,535.2 L466.28,535.2 L466.78,535.2 L467.28,535.2 L467.78,535.2 L468.28,535.2 L468.78,535.2 L469.28,535.2 L469.78,535.2 L470.28,535.2 L470.78,535.2 L471.28,535.19 L471.78,535.19 L472.29,535.19 L472.79,535.19 L473.29,535.19 L473.79,535.19 L474.29,535.19 L474.79,535.19 L475.29,535.19 L475.79,535.19 L476.29,535.19 L476.79,535.18 L477.29,535.18 L477.79,535.18 L478.29,535.18 L478.79,535.18 L479.29,535.17 L479.79,535.17 L480.29,535.17 L480.8,535.17 L481.3,535.16 L481.8,535.16 L482.3,535.15 L482.8,535.15 L483.3,535.15 L483.8,535.14 L484.3,535.13 L484.8,535.13 L485.3,535.12 L485.8,535.12 L486.3,535.11 L486.8,535.1 L487.3,535.09 L487.8,535.08 L488.3,535.07 L488.8,535.06 L489.31,535.05 L489.81,535.03 L490.31,535.02 L490.81,535 L491.31,534.98 L491.81,534.97 L492.31,534.95 L492.81,534.93 L493.31,534.9 L493.81,534.88 L494.31,534.85 L494.81,534.82 L495.31,534.79 L495.81,534.76 L496.31,534.73 L496.81,534.69 L497.31,534.65 L497.81,534.61 L498.32,534.56 L498.82,534.51 L499.32,534.46 L499.82,534.41 L500.32,534.35 L500.82,534.28 L501.32,534.22 L501.82,534.14 L502.32,534.07 L502.82,533.99 L503.32,533.9 L503.82,533.81 L504.32,533.71 L504.82,533.61 L505.32,533.5 L505.82,533.39 L506.32,533.27 L506.83,533.14 L507.33,533 L507.83,532.86 L508.33,532.7 L508.83,532.54 L509.33,532.38 L509.83,532.2 L510.33,532.01 L510.83,531.81 L511.33,531.6 L511.83,531.39 L512.33,531.16 L512.83,530.92 L513.33,530.66 L513.83,530.4 L514.33,530.12 L514.83,529.83 L515.34,529.53 L515.84,529.21 L516.34,528.88 L516.84,528.53 L517.34,528.17 L517.84,527.79 L518.34,527.4 L518.84,526.99 L519.34,526.56 L519.84,526.12 L520.34,525.66 L520.84,525.18 L521.34,524.69 L521.84,524.17 L522.34,523.64 L522.84,523.09 L523.34,522.51 L523.85,521.92 L524.35,521.31 L524.85,520.68 L525.35,520.03 L525.85,519.36 L526.35,518.66 L526.85,517.95 L527.35,517.22 L527.85,516.46 L528.35,515.69 L528.85,514.89 L529.35,514.08 L529.85,513.24 L530.35,512.38 L530.85,511.5 L531.35,510.6 L531.85,509.69 L532.35,508.75 L532.86,507.79 L533.36,506.82 L533.86,505.82 L534.36,504.81 L534.86,503.78 L535.36,502.74 L535.86,501.68 L536.36,500.6 L536.86,499.51 L537.36,498.4 L537.86,497.28 L538.36,496.15 L538.86,495.01 L539.36,493.86 L539.86,492.69 L540.36,491.52 L540.86,490.35 L541.37,489.16 L541.87,487.97 L542.37,486.78 L542.87,485.59 L543.37,484.39 L543.87,483.2 L544.37,482 L544.87,480.81 L545.37,479.62 L545.87,478.44 L546.37,477.27 L546.87,476.1 L547.37,474.95 L547.87,473.8 L548.37,472.67 L548.87,471.55 L549.37,470.45 L549.88,469.37 L550.38,468.31 L550.88,467.26 L551.38,466.24 L551.88,465.24 L552.38,464.27 L552.88,463.32 L553.38,462.4 L553.88,461.51 L554.38,460.65 L554.88,459.81 L555.38,459.02 L555.88,458.25 L556.38,457.52 L556.88,456.82 L557.38,456.16 L557.88,455.54 L558.39,454.95 L558.89,454.4 L559.39,453.89 L559.89,453.42 L560.39,452.98 L560.89,452.59 L561.39,452.24 L561.89,451.92 L562.39,451.64 L562.89,451.4 L563.39,451.2 L563.89,451.03 L564.39,450.9 L564.89,450.81 L565.39,450.75 L565.89,450.72 L566.39,450.72 L566.89,450.74 L567.4,450.8 L567.9,450.88 L568.4,450.98 L568.9,451.1 L569.4,451.23 L569.9,451.38 L570.4,451.54 L570.9,451.7 L571.4,451.87 L571.9,452.03 L572.4,452.19 L572.9,452.34 L573.4,452.47 L573.9,452.59 L574.4,452.68 L574.9,452.74 L575.4,452.77 L575.91,452.76 L576.41,452.71 L576.91,452.6 L577.41,452.45 L577.91,452.23 L578.41,451.94 L578.91,451.59 L579.41,451.16 L579.91,450.64 L580.41,450.05 L580.91,449.36 L581.41,448.58 L581.91,447.69 L582.41,446.71 L582.91,445.62 L583.41,444.42 L583.91,443.11 L584.42,441.68 L584.92,440.14 L585.42,438.49 L585.92,436.71 L586.42,434.82 L586.92,432.82 L587.42,430.7 L587.92,428.48 L588.42,426.14 L588.92,423.7 L589.42,421.17 L589.92,418.54 L590.42,415.82 L590.92,413.03 L591.42,410.17 L591.92,407.24 L592.42,404.26 L592.93,401.23 L593.43,398.18 L593.93,395.11 L594.43,392.02 L594.93,388.94 L595.43,385.88 L595.93,382.85 L596.43,379.86 L596.93,376.93 L597.43,374.07 L597.93,371.3 L598.43,368.62 L598.93,366.06 L599.43,363.62 L599.93,361.33 L600.43,359.18 L600.93,357.19 L601.44,355.38 L601.94,353.75 L602.44,352.31 L602.94,351.08 L603.44,350.05 L603.94,349.24 L604.44,348.65 L604.94,348.28 L605.44,348.13 L605.94,348.22 L606.44,348.53 L606.94,349.07 L607.44,349.83 L607.94,350.81 L608.44,352.01 L608.94,353.42 L609.44,355.03 L609.94,356.84 L610.45,358.83 L610.95,361 L611.45,363.35 L611.95,365.85 L612.45,368.5 L612.95,371.29 L613.45,374.21 L613.95,377.24 L614.45,380.39 L614.95,383.64 L615.45,386.98 L615.95,390.4 L616.45,393.89 L616.95,397.46 L617.45,401.08 L617.95,404.75 L618.45,408.47 L618.96,412.23 L619.46,416.02 L619.96,419.84 L620.46,423.68 L620.96,427.54 L621.46,431.41 L621.96,435.28 L622.46,439.15 L622.96,443.02 L623.46,446.86 L623.96,450.69 L624.46,454.48 L624.96,458.23 L625.46,461.93 L625.96,465.59 L626.46,469.17 L626.96,472.69 L627.47,476.12 L627.97,479.47 L628.47,482.72 L628.97,485.87 L629.47,488.92 L629.97,491.84 L630.47,494.66 L630.97,497.35 L631.47,499.91 L631.97,502.35 L632.47,504.67 L632.97,506.85 L633.47,508.91 L633.97,510.85 L634.47,512.66 L634.97,514.36 L635.47,515.94 L635.98,517.41 L636.48,518.77 L636.98,520.03 L637.48,521.2 L637.98,522.28 L638.48,523.27 L638.98,524.18 L639.48,525.03 L639.98,525.8 L640.48,526.51 L640.98,527.16 L641.48,527.76 L641.98,528.32 L642.48,528.83 L642.98,529.29 L643.48,529.73 L643.98,530.13 L644.48,530.49 L644.99,530.84 L645.49,531.15 L645.99,531.45 L646.49,531.72 L646.99,531.97 L647.49,532.21 L647.99,532.43 L648.49,532.64 L648.99,532.83 L649.49,533.01 L649.99,533.18 L650.49,533.34 L650.99,533.48 L651.49,533.62 L651.99,533.75 L652.49,533.87 L652.99,533.98 L653.5,534.08 L654,534.18 L654.5,534.27 L655,534.35 L655.5,534.43 L656,534.5 L656.5,534.57 L657,534.63 L657.5,534.69" stroke="#0000ff" stroke-width="2.6" fill="none" stroke-linejoin="round" stroke-linecap="round"/>
<rect x="377.6" y="303.7" width="301.4" height="242.3" fill="none" stroke="#000" stroke-width="2"/>
<path d="M399,546 V551.5 M442.05,546 V551.5 M485.1,546 V551.5 M528.15,546 V551.5 M571.2,546 V551.5 M614.25,546 V551.5 M657.3,546 V551.5" stroke="#000" stroke-width="2" fill="none"/>
<path d="M377.48,546 V549.5 M420.52,546 V549.5 M463.57,546 V549.5 M506.62,546 V549.5 M549.67,546 V549.5 M592.73,546 V549.5 M635.77,546 V549.5 M678.83,546 V549.5" stroke="#000" stroke-width="2" fill="none"/>
<text x="399" y="564.2" font-size="12" font-weight="bold" text-anchor="middle" fill="#000">165</text>
<text x="442.05" y="564.2" font-size="12" font-weight="bold" text-anchor="middle" fill="#000">160</text>
<text x="485.1" y="564.2" font-size="12" font-weight="bold" text-anchor="middle" fill="#000">155</text>
<text x="528.15" y="564.2" font-size="12" font-weight="bold" text-anchor="middle" fill="#000">150</text>
<text x="571.2" y="564.2" font-size="12" font-weight="bold" text-anchor="middle" fill="#000">145</text>
<text x="614.25" y="564.2" font-size="12" font-weight="bold" text-anchor="middle" fill="#000">140</text>
<text x="657.3" y="564.2" font-size="12" font-weight="bold" text-anchor="middle" fill="#000">135</text>
<text x="454.2" y="582.5" font-size="14.4" font-weight="bold" text-anchor="start" fill="#000" textLength="142.5" lengthAdjust="spacingAndGlyphs">Binding Energy (eV)</text>
<text transform="translate(362.5,487.3) rotate(-90)" font-size="13.2" font-weight="bold" text-anchor="start" fill="#000" textLength="132" lengthAdjust="spacingAndGlyphs">Intensity (Arb.units)</text>
<text x="392.5" y="325.5" font-size="14.2" font-weight="bold" text-anchor="start" fill="#000">(d)</text>
<text x="624.3" y="324.9" font-size="12.8" font-weight="bold" text-anchor="start" fill="#000">Gd 4d</text>
<text transform="translate(610.7,345.4) rotate(-90)" font-size="9.4" font-weight="bold" text-anchor="start" fill="#000" textLength="27.3" lengthAdjust="spacingAndGlyphs">141.01</text>
<text transform="translate(568,442) rotate(-90)" font-size="9.8" font-weight="bold" text-anchor="start" fill="#000" textLength="29" lengthAdjust="spacingAndGlyphs">146.16</text>
</g>
</svg>
</body></html>
